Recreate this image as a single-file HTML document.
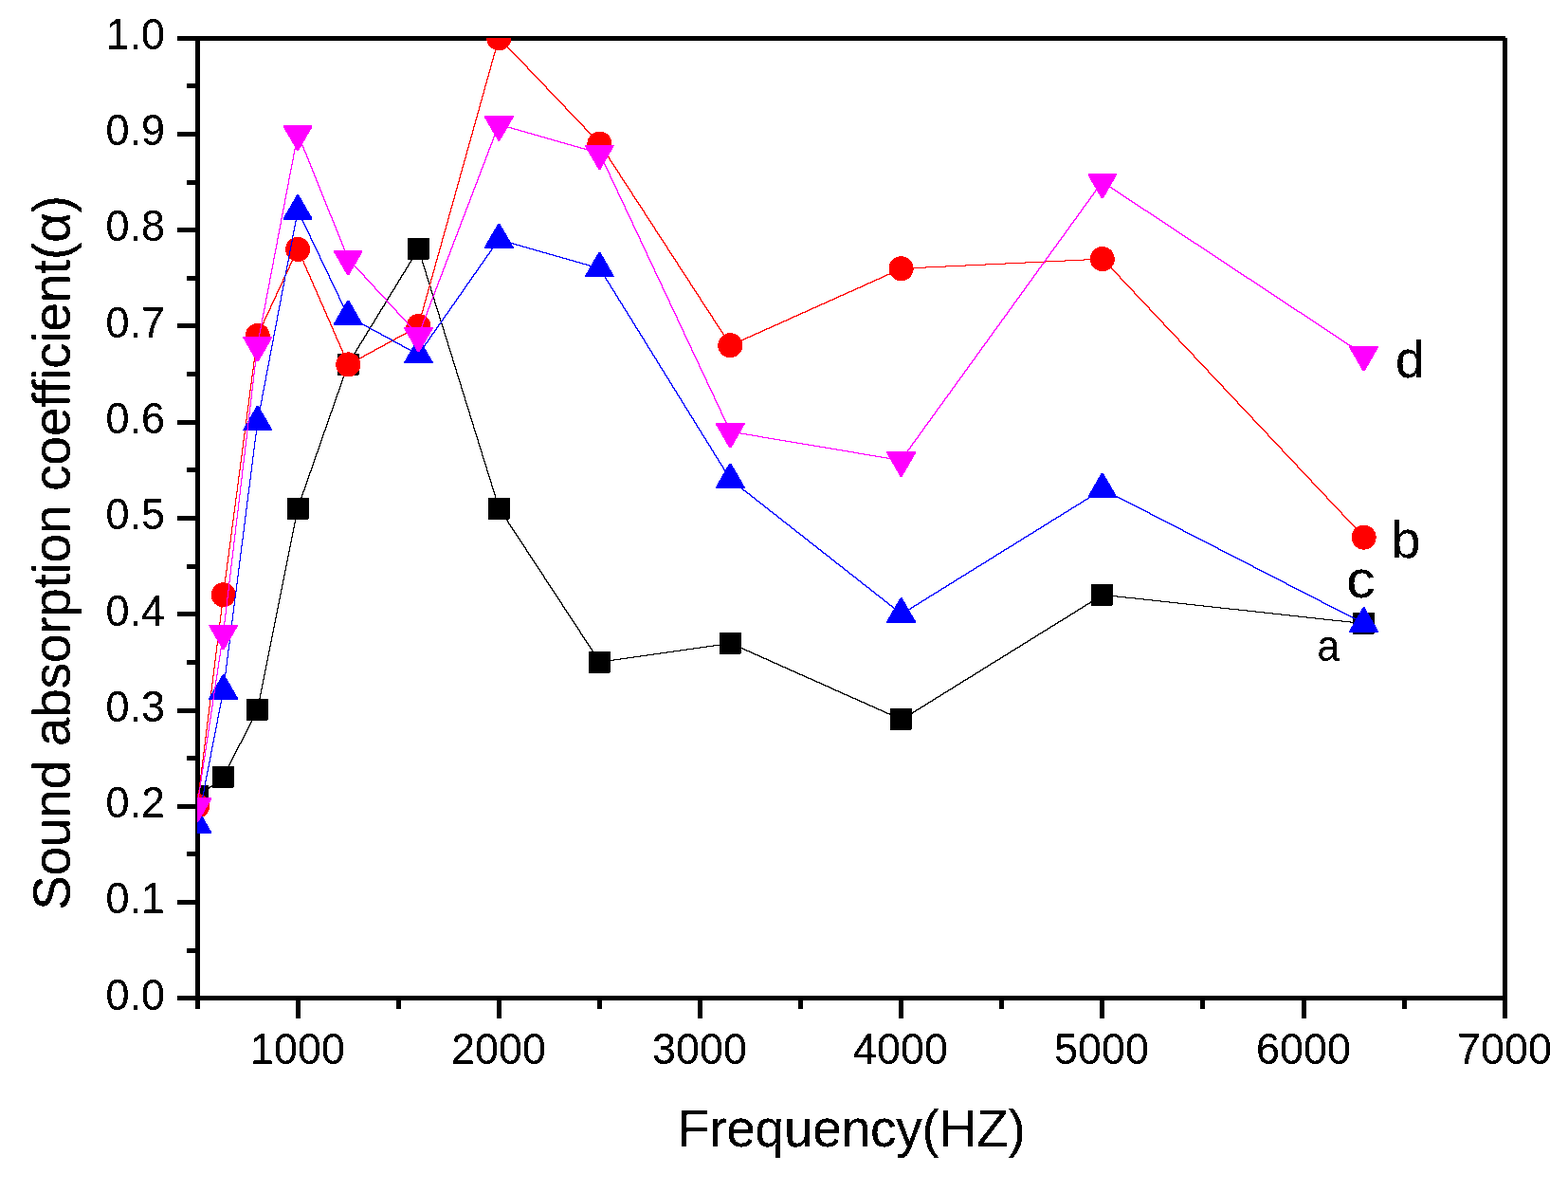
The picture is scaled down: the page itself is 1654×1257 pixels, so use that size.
<!DOCTYPE html>
<html lang="en"><head><meta charset="utf-8"><title>Sound absorption coefficient vs Frequency</title>
<style>
html,body{margin:0;padding:0;background:#fff;}
body{width:1654px;height:1257px;overflow:hidden;}
svg{display:block;}
text{font-family:"Liberation Sans",Arial,Helvetica,sans-serif;fill:#000;}
.tk{font-size:44px;}
.ti{font-size:55px;}
.lb{font-size:55px;}
.la{font-size:47px;}
.ax rect{fill:#000;}
</style></head><body>
<svg width="1654" height="1257" viewBox="0 0 1654 1257">
<rect x="0" y="0" width="1654" height="1257" fill="#ffffff"/>
<defs><clipPath id="plot"><rect x="208" y="40" width="1382" height="1015"/></clipPath>
<filter id="crisp" filterUnits="userSpaceOnUse" x="0" y="0" width="1654" height="1257" color-interpolation-filters="sRGB"><feComponentTransfer><feFuncA type="discrete" tableValues="0 0 1 1 1"/></feComponentTransfer></filter>
</defs>
<g class="ax" shape-rendering="crispEdges">
<rect x="187" y="38" width="1401" height="5"/>
<rect x="187" y="1050" width="1401" height="5"/>
<rect x="206" y="38" width="5" height="1026"/>
<rect x="1585" y="40" width="5" height="1034"/>
<rect x="187" y="1050" width="20" height="5"/>
<rect x="197" y="1000" width="10" height="5"/>
<rect x="187" y="949" width="20" height="5"/>
<rect x="197" y="898" width="10" height="5"/>
<rect x="187" y="848" width="20" height="5"/>
<rect x="197" y="797" width="10" height="5"/>
<rect x="187" y="747" width="20" height="5"/>
<rect x="197" y="696" width="10" height="5"/>
<rect x="187" y="645" width="20" height="5"/>
<rect x="197" y="595" width="10" height="5"/>
<rect x="187" y="544" width="20" height="5"/>
<rect x="197" y="493" width="10" height="5"/>
<rect x="187" y="443" width="20" height="5"/>
<rect x="197" y="392" width="10" height="5"/>
<rect x="187" y="341" width="20" height="5"/>
<rect x="197" y="291" width="10" height="5"/>
<rect x="187" y="240" width="20" height="5"/>
<rect x="197" y="190" width="10" height="5"/>
<rect x="187" y="139" width="20" height="5"/>
<rect x="197" y="88" width="10" height="5"/>
<rect x="187" y="38" width="20" height="5"/>
<rect x="206" y="1054" width="5" height="10"/>
<rect x="312" y="1054" width="5" height="20"/>
<rect x="418" y="1054" width="5" height="10"/>
<rect x="524" y="1054" width="5" height="20"/>
<rect x="630" y="1054" width="5" height="10"/>
<rect x="736" y="1054" width="5" height="20"/>
<rect x="842" y="1054" width="5" height="10"/>
<rect x="948" y="1054" width="5" height="20"/>
<rect x="1054" y="1054" width="5" height="10"/>
<rect x="1160" y="1054" width="5" height="20"/>
<rect x="1266" y="1054" width="5" height="10"/>
<rect x="1373" y="1054" width="5" height="20"/>
<rect x="1479" y="1054" width="5" height="10"/>
</g>
<g filter="url(#crisp)">
<g class="tk" text-anchor="end">
<text transform="translate(174 1065) scale(1.02 1.045)">0.0</text>
<text transform="translate(174 963) scale(1.02 1.045)">0.1</text>
<text transform="translate(174 862) scale(1.02 1.045)">0.2</text>
<text transform="translate(174 761) scale(1.02 1.045)">0.3</text>
<text transform="translate(174 660) scale(1.02 1.045)">0.4</text>
<text transform="translate(174 558) scale(1.02 1.045)">0.5</text>
<text transform="translate(174 457) scale(1.02 1.045)">0.6</text>
<text transform="translate(174 356) scale(1.02 1.045)">0.7</text>
<text transform="translate(174 254) scale(1.02 1.045)">0.8</text>
<text transform="translate(174 153) scale(1.02 1.045)">0.9</text>
<text transform="translate(174 52) scale(1.02 1.045)">1.0</text>
</g>
<g class="tk" text-anchor="middle">
<text transform="translate(314 1121.5) scale(1.02 1.045)">1000</text>
<text transform="translate(526 1121.5) scale(1.02 1.045)">2000</text>
<text transform="translate(738 1121.5) scale(1.02 1.045)">3000</text>
<text transform="translate(950 1121.5) scale(1.02 1.045)">4000</text>
<text transform="translate(1162 1121.5) scale(1.02 1.045)">5000</text>
<text transform="translate(1375 1121.5) scale(1.02 1.045)">6000</text>
<text transform="translate(1587 1121.5) scale(1.02 1.045)">7000</text>
</g>
<text class="ti" text-anchor="middle" textLength="367" lengthAdjust="spacing" x="898.3" y="1209">Frequency(HZ)</text>
<text class="ti" text-anchor="start" textLength="753.8" lengthAdjust="spacing" transform="translate(73.5 959.76) rotate(-90)">Sound absorption coefficient(α)</text>
</g>
<g clip-path="url(#plot)" shape-rendering="crispEdges">
<g fill="#000000" stroke="none">
<path d="M441 262h1v1h-1zM440 263h2v1h-2zM439 264h4v1h-4zM439 265h1v1h-1zM442 265h1v2h-1zM438 266h2v1h-2zM438 267h1v1h-1zM442 267h2v1h-2zM437 268h2v1h-2zM443 268h1v2h-1zM436 269h2v1h-2zM436 270h1v1h-1zM443 270h2v1h-2zM435 271h2v1h-2zM444 271h1v2h-1zM434 272h2v1h-2zM434 273h1v1h-1zM444 273h2v1h-2zM433 274h2v1h-2zM445 274h1v3h-1zM433 275h1v1h-1zM432 276h2v1h-2zM431 277h2v1h-2zM445 277h2v1h-2zM431 278h1v1h-1zM446 278h1v2h-1zM430 279h2v1h-2zM430 280h1v1h-1zM446 280h2v1h-2zM429 281h2v1h-2zM447 281h1v2h-1zM428 282h2v1h-2zM428 283h1v1h-1zM447 283h2v1h-2zM427 284h2v1h-2zM448 284h1v2h-1zM427 285h1v1h-1zM426 286h2v1h-2zM448 286h2v1h-2zM425 287h2v1h-2zM449 287h1v3h-1zM425 288h1v1h-1zM424 289h2v1h-2zM423 290h2v1h-2zM449 290h2v1h-2zM423 291h1v1h-1zM450 291h1v2h-1zM422 292h2v1h-2zM422 293h1v1h-1zM450 293h2v1h-2zM421 294h2v1h-2zM451 294h1v2h-1zM420 295h2v1h-2zM420 296h1v1h-1zM451 296h2v1h-2zM419 297h2v1h-2zM452 297h1v2h-1zM419 298h1v1h-1zM418 299h2v1h-2zM452 299h2v1h-2zM417 300h2v1h-2zM453 300h1v2h-1zM417 301h1v1h-1zM416 302h2v1h-2zM453 302h2v1h-2zM416 303h1v1h-1zM454 303h1v3h-1zM415 304h2v1h-2zM414 305h2v1h-2zM414 306h1v1h-1zM454 306h2v1h-2zM413 307h2v1h-2zM455 307h1v2h-1zM412 308h2v1h-2zM412 309h1v1h-1zM455 309h2v1h-2zM411 310h2v1h-2zM456 310h1v2h-1zM411 311h1v1h-1zM410 312h2v1h-2zM456 312h2v1h-2zM409 313h2v1h-2zM457 313h1v2h-1zM409 314h1v1h-1zM408 315h2v1h-2zM457 315h2v1h-2zM408 316h1v1h-1zM458 316h1v3h-1zM407 317h2v1h-2zM406 318h2v1h-2zM406 319h1v1h-1zM458 319h2v1h-2zM405 320h2v1h-2zM459 320h1v2h-1zM405 321h1v1h-1zM404 322h2v1h-2zM459 322h2v1h-2zM403 323h2v1h-2zM460 323h1v2h-1zM403 324h1v1h-1zM402 325h2v1h-2zM460 325h2v1h-2zM401 326h2v1h-2zM461 326h1v2h-1zM401 327h1v1h-1zM400 328h2v1h-2zM461 328h2v1h-2zM400 329h1v1h-1zM462 329h1v2h-1zM399 330h2v1h-2zM398 331h2v1h-2zM462 331h2v1h-2zM398 332h1v1h-1zM463 332h1v3h-1zM397 333h2v1h-2zM397 334h1v1h-1zM396 335h2v1h-2zM463 335h2v1h-2zM395 336h2v1h-2zM464 336h1v2h-1zM395 337h1v1h-1zM394 338h2v1h-2zM464 338h2v1h-2zM394 339h1v1h-1zM465 339h1v2h-1zM393 340h2v1h-2zM392 341h2v1h-2zM465 341h2v1h-2zM392 342h1v1h-1zM466 342h1v2h-1zM391 343h2v1h-2zM390 344h2v1h-2zM466 344h2v1h-2zM390 345h1v1h-1zM467 345h1v2h-1zM389 346h2v1h-2zM389 347h1v1h-1zM467 347h2v1h-2zM388 348h2v1h-2zM468 348h1v3h-1zM387 349h2v1h-2zM387 350h1v1h-1zM386 351h2v1h-2zM468 351h2v1h-2zM386 352h1v1h-1zM469 352h1v2h-1zM385 353h2v1h-2zM384 354h2v1h-2zM469 354h2v1h-2zM384 355h1v1h-1zM470 355h1v2h-1zM383 356h2v1h-2zM383 357h1v1h-1zM470 357h2v1h-2zM382 358h2v1h-2zM471 358h1v2h-1zM381 359h2v1h-2zM381 360h1v1h-1zM471 360h2v1h-2zM380 361h2v1h-2zM472 361h1v3h-1zM379 362h2v1h-2zM379 363h1v1h-1zM378 364h2v1h-2zM472 364h2v1h-2zM378 365h1v1h-1zM473 365h1v2h-1zM377 366h2v1h-2zM376 367h2v1h-2zM473 367h2v1h-2zM376 368h1v1h-1zM474 368h1v2h-1zM375 369h2v1h-2zM375 370h1v1h-1zM474 370h2v1h-2zM374 371h2v1h-2zM475 371h1v2h-1zM373 372h2v1h-2zM373 373h1v1h-1zM475 373h2v1h-2zM372 374h2v1h-2zM476 374h1v2h-1zM372 375h1v1h-1zM371 376h2v1h-2zM476 376h2v1h-2zM370 377h2v1h-2zM477 377h1v3h-1zM370 378h1v1h-1zM369 379h2v1h-2zM368 380h2v1h-2zM477 380h2v1h-2zM368 381h1v1h-1zM478 381h1v2h-1zM367 382h2v1h-2zM367 383h1v1h-1zM478 383h2v1h-2zM366 384h2v1h-2zM479 384h1v2h-1zM366 385h1v2h-1zM479 386h2v1h-2zM365 387h2v1h-2zM480 387h1v2h-1zM365 388h1v2h-1zM480 389h2v1h-2zM364 390h2v1h-2zM481 390h1v3h-1zM364 391h1v2h-1zM363 393h2v1h-2zM481 393h2v1h-2zM363 394h1v1h-1zM482 394h1v2h-1zM362 395h2v1h-2zM362 396h1v2h-1zM482 396h2v1h-2zM483 397h1v2h-1zM361 398h2v1h-2zM361 399h1v2h-1zM483 399h2v1h-2zM484 400h1v2h-1zM360 401h2v1h-2zM360 402h1v2h-1zM484 402h2v1h-2zM485 403h1v2h-1zM359 404h2v1h-2zM359 405h1v2h-1zM485 405h2v1h-2zM486 406h1v3h-1zM358 407h2v1h-2zM358 408h1v2h-1zM486 409h2v1h-2zM357 410h2v1h-2zM487 410h1v2h-1zM357 411h1v2h-1zM487 412h2v1h-2zM356 413h2v1h-2zM488 413h1v2h-1zM356 414h1v1h-1zM355 415h2v1h-2zM488 415h2v1h-2zM355 416h1v2h-1zM489 416h1v2h-1zM354 418h2v1h-2zM489 418h2v1h-2zM354 419h1v2h-1zM490 419h1v3h-1zM353 421h2v1h-2zM353 422h1v2h-1zM490 422h2v1h-2zM491 423h1v2h-1zM352 424h2v1h-2zM352 425h1v2h-1zM491 425h2v1h-2zM492 426h1v2h-1zM351 427h2v1h-2zM351 428h1v2h-1zM492 428h2v1h-2zM493 429h1v2h-1zM350 430h2v1h-2zM350 431h1v2h-1zM493 431h2v1h-2zM494 432h1v2h-1zM349 433h2v1h-2zM349 434h1v1h-1zM494 434h2v1h-2zM348 435h2v1h-2zM495 435h1v3h-1zM348 436h1v2h-1zM347 438h2v1h-2zM495 438h2v1h-2zM347 439h1v2h-1zM496 439h1v2h-1zM346 441h2v1h-2zM496 441h2v1h-2zM346 442h1v2h-1zM497 442h1v2h-1zM345 444h2v1h-2zM497 444h2v1h-2zM345 445h1v2h-1zM498 445h1v2h-1zM344 447h2v1h-2zM498 447h2v1h-2zM344 448h1v2h-1zM499 448h1v3h-1zM343 450h2v1h-2zM343 451h1v2h-1zM499 451h2v1h-2zM500 452h1v2h-1zM342 453h2v1h-2zM342 454h1v1h-1zM500 454h2v1h-2zM341 455h2v1h-2zM501 455h1v2h-1zM341 456h1v2h-1zM501 457h2v1h-2zM340 458h2v1h-2zM502 458h1v2h-1zM340 459h1v2h-1zM502 460h2v1h-2zM339 461h2v1h-2zM503 461h1v2h-1zM339 462h1v2h-1zM503 463h2v1h-2zM338 464h2v1h-2zM504 464h1v3h-1zM338 465h1v2h-1zM337 467h2v1h-2zM504 467h2v1h-2zM337 468h1v2h-1zM505 468h1v2h-1zM336 470h2v1h-2zM505 470h2v1h-2zM336 471h1v2h-1zM506 471h1v2h-1zM335 473h2v1h-2zM506 473h2v1h-2zM335 474h1v2h-1zM507 474h1v2h-1zM334 476h2v1h-2zM507 476h2v1h-2zM334 477h1v1h-1zM508 477h1v3h-1zM333 478h2v1h-2zM333 479h1v2h-1zM508 480h2v1h-2zM332 481h2v1h-2zM509 481h1v2h-1zM332 482h1v2h-1zM509 483h2v1h-2zM331 484h2v1h-2zM510 484h1v2h-1zM331 485h1v2h-1zM510 486h2v1h-2zM330 487h2v1h-2zM511 487h1v2h-1zM330 488h1v2h-1zM511 489h2v1h-2zM329 490h2v1h-2zM512 490h1v2h-1zM329 491h1v2h-1zM512 492h2v1h-2zM328 493h2v1h-2zM513 493h1v3h-1zM328 494h1v2h-1zM327 496h2v1h-2zM513 496h2v1h-2zM327 497h1v1h-1zM514 497h1v2h-1zM326 498h2v1h-2zM326 499h1v2h-1zM514 499h2v1h-2zM515 500h1v2h-1zM325 501h2v1h-2zM325 502h1v2h-1zM515 502h2v1h-2zM516 503h1v2h-1zM324 504h2v1h-2zM324 505h1v2h-1zM516 505h2v1h-2zM517 506h1v2h-1zM323 507h2v1h-2zM323 508h1v2h-1zM517 508h2v1h-2zM518 509h1v3h-1zM322 510h2v1h-2zM322 511h1v2h-1zM518 512h2v1h-2zM321 513h2v1h-2zM519 513h1v2h-1zM321 514h1v2h-1zM519 515h2v1h-2zM320 516h2v1h-2zM520 516h1v2h-1zM320 517h1v1h-1zM319 518h2v1h-2zM520 518h2v1h-2zM319 519h1v2h-1zM521 519h1v2h-1zM318 521h2v1h-2zM521 521h2v1h-2zM318 522h1v2h-1zM522 522h1v3h-1zM317 524h2v1h-2zM317 525h1v2h-1zM522 525h2v1h-2zM523 526h1v2h-1zM316 527h2v1h-2zM316 528h1v2h-1zM523 528h2v1h-2zM524 529h1v2h-1zM315 530h2v1h-2zM315 531h1v2h-1zM524 531h2v1h-2zM525 532h1v2h-1zM314 533h2v1h-2zM314 534h1v2h-1zM525 534h2v1h-2zM526 535h1v1h-1zM313 536h2v1h-2zM526 536h2v1h-2zM313 537h1v4h-1zM527 537h1v1h-1zM527 538h2v1h-2zM528 539h2v1h-2zM529 540h1v1h-1zM312 541h2v1h-2zM529 541h2v1h-2zM312 542h1v4h-1zM530 542h2v1h-2zM531 543h1v1h-1zM531 544h2v1h-2zM532 545h2v1h-2zM311 546h2v1h-2zM533 546h1v1h-1zM311 547h1v4h-1zM533 547h2v1h-2zM534 548h2v1h-2zM535 549h1v1h-1zM535 550h2v1h-2zM310 551h2v1h-2zM536 551h1v1h-1zM310 552h1v4h-1zM536 552h2v1h-2zM537 553h2v1h-2zM538 554h1v1h-1zM538 555h2v1h-2zM309 556h2v1h-2zM539 556h2v1h-2zM309 557h1v4h-1zM540 557h1v1h-1zM540 558h2v1h-2zM541 559h2v1h-2zM542 560h1v1h-1zM308 561h2v1h-2zM542 561h2v1h-2zM308 562h1v4h-1zM543 562h2v1h-2zM544 563h1v1h-1zM544 564h2v1h-2zM545 565h2v1h-2zM307 566h2v1h-2zM546 566h1v1h-1zM307 567h1v4h-1zM546 567h2v1h-2zM547 568h2v1h-2zM548 569h1v1h-1zM548 570h2v1h-2zM306 571h2v1h-2zM549 571h2v1h-2zM306 572h1v4h-1zM550 572h1v1h-1zM550 573h2v1h-2zM551 574h2v1h-2zM552 575h1v1h-1zM305 576h2v1h-2zM552 576h2v1h-2zM305 577h1v4h-1zM553 577h2v1h-2zM554 578h1v1h-1zM554 579h2v1h-2zM555 580h1v1h-1zM304 581h2v1h-2zM555 581h2v1h-2zM304 582h1v4h-1zM556 582h2v1h-2zM557 583h1v1h-1zM557 584h2v1h-2zM558 585h2v1h-2zM303 586h2v1h-2zM559 586h1v1h-1zM303 587h1v4h-1zM559 587h2v1h-2zM560 588h2v1h-2zM561 589h1v1h-1zM561 590h2v1h-2zM302 591h2v1h-2zM562 591h2v1h-2zM302 592h1v4h-1zM563 592h1v1h-1zM563 593h2v1h-2zM564 594h2v1h-2zM565 595h1v1h-1zM301 596h2v1h-2zM565 596h2v1h-2zM301 597h1v4h-1zM566 597h2v1h-2zM567 598h1v1h-1zM567 599h2v1h-2zM568 600h2v1h-2zM300 601h2v1h-2zM569 601h1v1h-1zM300 602h1v4h-1zM569 602h2v1h-2zM570 603h2v1h-2zM571 604h1v1h-1zM571 605h2v1h-2zM299 606h2v1h-2zM572 606h2v1h-2zM299 607h1v4h-1zM573 607h1v1h-1zM573 608h2v1h-2zM574 609h1v1h-1zM574 610h2v1h-2zM298 611h2v1h-2zM575 611h2v1h-2zM298 612h1v4h-1zM576 612h1v1h-1zM576 613h2v1h-2zM577 614h2v1h-2zM578 615h1v1h-1zM297 616h2v1h-2zM578 616h2v1h-2zM297 617h1v4h-1zM579 617h2v1h-2zM580 618h1v1h-1zM580 619h2v1h-2zM581 620h2v1h-2zM296 621h2v1h-2zM582 621h1v1h-1zM296 622h1v4h-1zM582 622h2v1h-2zM583 623h2v1h-2zM584 624h1v1h-1zM584 625h2v1h-2zM295 626h2v1h-2zM585 626h2v1h-2zM295 627h1v4h-1zM586 627h1v1h-1zM1162 627h8v1h-8zM586 628h2v1h-2zM1160 628h3v1h-3zM1169 628h10v1h-10zM587 629h2v1h-2zM1158 629h3v1h-3zM1178 629h10v1h-10zM588 630h1v1h-1zM1157 630h2v1h-2zM1187 630h11v1h-11zM294 631h2v1h-2zM588 631h2v1h-2zM1155 631h3v1h-3zM1197 631h10v1h-10zM294 632h1v4h-1zM589 632h2v1h-2zM1154 632h2v1h-2zM1206 632h10v1h-10zM590 633h1v1h-1zM1152 633h3v1h-3zM1215 633h10v1h-10zM590 634h2v1h-2zM1150 634h3v1h-3zM1224 634h10v1h-10zM591 635h2v1h-2zM1149 635h2v1h-2zM1233 635h10v1h-10zM293 636h2v1h-2zM592 636h1v1h-1zM1147 636h3v1h-3zM1242 636h10v1h-10zM293 637h1v4h-1zM592 637h2v1h-2zM1145 637h3v1h-3zM1251 637h10v1h-10zM593 638h1v1h-1zM1144 638h2v1h-2zM1260 638h10v1h-10zM593 639h2v1h-2zM1142 639h3v1h-3zM1269 639h10v1h-10zM594 640h2v1h-2zM1141 640h2v1h-2zM1278 640h10v1h-10zM292 641h2v1h-2zM595 641h1v1h-1zM1139 641h3v1h-3zM1287 641h10v1h-10zM292 642h1v4h-1zM595 642h2v1h-2zM1137 642h3v1h-3zM1296 642h11v1h-11zM596 643h2v1h-2zM1136 643h2v1h-2zM1306 643h10v1h-10zM597 644h1v1h-1zM1134 644h3v1h-3zM1315 644h10v1h-10zM597 645h2v1h-2zM1133 645h2v1h-2zM1324 645h10v1h-10zM291 646h2v1h-2zM598 646h2v1h-2zM1131 646h3v1h-3zM1333 646h10v1h-10zM291 647h1v4h-1zM599 647h1v1h-1zM1129 647h3v1h-3zM1342 647h10v1h-10zM599 648h2v1h-2zM1128 648h2v1h-2zM1351 648h10v1h-10zM600 649h2v1h-2zM1126 649h3v1h-3zM1360 649h10v1h-10zM601 650h1v1h-1zM1125 650h2v1h-2zM1369 650h10v1h-10zM290 651h2v1h-2zM601 651h2v1h-2zM1123 651h3v1h-3zM1378 651h10v1h-10zM290 652h1v4h-1zM602 652h2v1h-2zM1121 652h3v1h-3zM1387 652h10v1h-10zM603 653h1v1h-1zM1120 653h2v1h-2zM1396 653h10v1h-10zM603 654h2v1h-2zM1118 654h3v1h-3zM1405 654h11v1h-11zM604 655h2v1h-2zM1116 655h3v1h-3zM1415 655h10v1h-10zM289 656h2v1h-2zM605 656h1v1h-1zM1115 656h2v1h-2zM1424 656h10v1h-10zM289 657h1v4h-1zM605 657h2v1h-2zM1113 657h3v1h-3zM1433 657h6v1h-6zM606 658h2v1h-2zM1112 658h2v1h-2zM607 659h1v1h-1zM1110 659h3v1h-3zM607 660h2v1h-2zM1108 660h3v1h-3zM288 661h2v1h-2zM608 661h2v1h-2zM1107 661h2v1h-2zM288 662h1v4h-1zM609 662h1v1h-1zM1105 662h3v1h-3zM609 663h2v1h-2zM1104 663h2v1h-2zM610 664h2v1h-2zM1102 664h3v1h-3zM611 665h1v1h-1zM1100 665h3v1h-3zM287 666h2v1h-2zM611 666h2v1h-2zM1099 666h2v1h-2zM287 667h1v4h-1zM612 667h1v1h-1zM1097 667h3v1h-3zM612 668h2v1h-2zM1095 668h3v1h-3zM613 669h2v1h-2zM1094 669h2v1h-2zM614 670h1v1h-1zM1092 670h3v1h-3zM286 671h2v1h-2zM614 671h2v1h-2zM1091 671h2v1h-2zM286 672h1v4h-1zM615 672h2v1h-2zM1089 672h3v1h-3zM616 673h1v1h-1zM1087 673h3v1h-3zM616 674h2v1h-2zM1086 674h2v1h-2zM617 675h2v1h-2zM1084 675h3v1h-3zM285 676h2v1h-2zM618 676h1v1h-1zM1083 676h2v1h-2zM285 677h1v4h-1zM618 677h2v1h-2zM1081 677h3v1h-3zM619 678h2v1h-2zM766 678h7v1h-7zM1079 678h3v1h-3zM620 679h1v1h-1zM759 679h8v1h-8zM772 679h3v1h-3zM1078 679h2v1h-2zM620 680h2v1h-2zM752 680h8v1h-8zM774 680h3v1h-3zM1076 680h3v1h-3zM284 681h2v1h-2zM621 681h2v1h-2zM745 681h8v1h-8zM776 681h3v1h-3zM1075 681h2v1h-2zM284 682h1v4h-1zM622 682h1v1h-1zM738 682h8v1h-8zM778 682h4v1h-4zM1073 682h3v1h-3zM622 683h2v1h-2zM731 683h8v1h-8zM781 683h3v1h-3zM1071 683h3v1h-3zM623 684h2v1h-2zM724 684h8v1h-8zM783 684h3v1h-3zM1070 684h2v1h-2zM624 685h1v1h-1zM717 685h8v1h-8zM785 685h3v1h-3zM1068 685h3v1h-3zM283 686h2v1h-2zM624 686h2v1h-2zM710 686h8v1h-8zM787 686h4v1h-4zM1066 686h3v1h-3zM283 687h1v4h-1zM625 687h2v1h-2zM703 687h8v1h-8zM790 687h3v1h-3zM1065 687h2v1h-2zM626 688h1v1h-1zM696 688h8v1h-8zM792 688h3v1h-3zM1063 688h3v1h-3zM626 689h2v1h-2zM689 689h8v1h-8zM794 689h3v1h-3zM1062 689h2v1h-2zM627 690h2v1h-2zM682 690h8v1h-8zM796 690h4v1h-4zM1060 690h3v1h-3zM282 691h2v1h-2zM628 691h1v1h-1zM675 691h8v1h-8zM799 691h3v1h-3zM1058 691h3v1h-3zM282 692h1v4h-1zM628 692h2v1h-2zM668 692h8v1h-8zM801 692h3v1h-3zM1057 692h2v1h-2zM629 693h2v1h-2zM661 693h8v1h-8zM803 693h3v1h-3zM1055 693h3v1h-3zM630 694h1v1h-1zM654 694h8v1h-8zM805 694h4v1h-4zM1054 694h2v1h-2zM630 695h2v1h-2zM647 695h8v1h-8zM808 695h3v1h-3zM1052 695h3v1h-3zM281 696h2v1h-2zM631 696h1v1h-1zM640 696h8v1h-8zM810 696h3v1h-3zM1050 696h3v1h-3zM281 697h1v4h-1zM631 697h10v1h-10zM812 697h3v1h-3zM1049 697h2v1h-2zM632 698h2v1h-2zM814 698h3v1h-3zM1047 698h3v1h-3zM816 699h4v1h-4zM1045 699h3v1h-3zM819 700h3v1h-3zM1044 700h2v1h-2zM280 701h2v1h-2zM821 701h3v1h-3zM1042 701h3v1h-3zM280 702h1v4h-1zM823 702h3v1h-3zM1041 702h2v1h-2zM825 703h4v1h-4zM1039 703h3v1h-3zM828 704h3v1h-3zM1037 704h3v1h-3zM830 705h3v1h-3zM1036 705h2v1h-2zM279 706h2v1h-2zM832 706h3v1h-3zM1034 706h3v1h-3zM279 707h1v4h-1zM834 707h4v1h-4zM1033 707h2v1h-2zM837 708h3v1h-3zM1031 708h3v1h-3zM839 709h3v1h-3zM1029 709h3v1h-3zM841 710h3v1h-3zM1028 710h2v1h-2zM278 711h2v1h-2zM843 711h4v1h-4zM1026 711h3v1h-3zM278 712h1v4h-1zM846 712h3v1h-3zM1025 712h2v1h-2zM848 713h3v1h-3zM1023 713h3v1h-3zM850 714h3v1h-3zM1021 714h3v1h-3zM852 715h4v1h-4zM1020 715h2v1h-2zM277 716h2v1h-2zM855 716h3v1h-3zM1018 716h3v1h-3zM277 717h1v4h-1zM857 717h3v1h-3zM1016 717h3v1h-3zM859 718h3v1h-3zM1015 718h2v1h-2zM861 719h4v1h-4zM1013 719h3v1h-3zM864 720h3v1h-3zM1012 720h2v1h-2zM276 721h2v1h-2zM866 721h3v1h-3zM1010 721h3v1h-3zM276 722h1v4h-1zM868 722h3v1h-3zM1008 722h3v1h-3zM870 723h4v1h-4zM1007 723h2v1h-2zM873 724h3v1h-3zM1005 724h3v1h-3zM875 725h3v1h-3zM1004 725h2v1h-2zM275 726h2v1h-2zM877 726h3v1h-3zM1002 726h3v1h-3zM275 727h1v4h-1zM879 727h3v1h-3zM1000 727h3v1h-3zM881 728h4v1h-4zM999 728h2v1h-2zM884 729h3v1h-3zM997 729h3v1h-3zM886 730h3v1h-3zM995 730h3v1h-3zM274 731h2v1h-2zM888 731h3v1h-3zM994 731h2v1h-2zM274 732h1v4h-1zM890 732h4v1h-4zM992 732h3v1h-3zM893 733h3v1h-3zM991 733h2v1h-2zM895 734h3v1h-3zM989 734h3v1h-3zM897 735h3v1h-3zM987 735h3v1h-3zM273 736h2v1h-2zM899 736h4v1h-4zM986 736h2v1h-2zM273 737h1v4h-1zM902 737h3v1h-3zM984 737h3v1h-3zM904 738h3v1h-3zM983 738h2v1h-2zM906 739h3v1h-3zM981 739h3v1h-3zM908 740h4v1h-4zM979 740h3v1h-3zM272 741h2v1h-2zM911 741h3v1h-3zM978 741h2v1h-2zM272 742h1v4h-1zM913 742h3v1h-3zM976 742h3v1h-3zM915 743h3v1h-3zM975 743h2v1h-2zM917 744h4v1h-4zM973 744h3v1h-3zM920 745h3v1h-3zM971 745h3v1h-3zM271 746h2v1h-2zM922 746h3v1h-3zM970 746h2v1h-2zM271 747h1v2h-1zM924 747h3v1h-3zM968 747h3v1h-3zM926 748h4v1h-4zM966 748h3v1h-3zM270 749h2v1h-2zM929 749h3v1h-3zM965 749h2v1h-2zM270 750h1v1h-1zM931 750h3v1h-3zM963 750h3v1h-3zM269 751h2v1h-2zM933 751h3v1h-3zM962 751h2v1h-2zM269 752h1v1h-1zM935 752h4v1h-4zM960 752h3v1h-3zM268 753h2v1h-2zM938 753h3v1h-3zM958 753h3v1h-3zM268 754h1v1h-1zM940 754h3v1h-3zM957 754h2v1h-2zM267 755h2v1h-2zM942 755h3v1h-3zM955 755h3v1h-3zM267 756h1v1h-1zM944 756h3v1h-3zM954 756h2v1h-2zM266 757h2v1h-2zM946 757h4v1h-4zM952 757h3v1h-3zM266 758h1v1h-1zM949 758h4v1h-4zM265 759h2v1h-2zM265 760h1v1h-1zM264 761h2v1h-2zM264 762h1v1h-1zM263 763h2v1h-2zM263 764h1v1h-1zM262 765h2v1h-2zM262 766h1v1h-1zM261 767h2v1h-2zM261 768h1v1h-1zM260 769h2v1h-2zM260 770h1v1h-1zM259 771h2v1h-2zM259 772h1v1h-1zM258 773h2v1h-2zM258 774h1v1h-1zM257 775h2v1h-2zM257 776h1v1h-1zM256 777h2v1h-2zM256 778h1v1h-1zM255 779h2v1h-2zM255 780h1v1h-1zM254 781h2v1h-2zM254 782h1v1h-1zM253 783h2v1h-2zM252 784h2v1h-2zM252 785h1v1h-1zM251 786h2v1h-2zM251 787h1v1h-1zM250 788h2v1h-2zM250 789h1v1h-1zM249 790h2v1h-2zM249 791h1v1h-1zM248 792h2v1h-2zM248 793h1v1h-1zM247 794h2v1h-2zM247 795h1v1h-1zM246 796h2v1h-2zM246 797h1v1h-1zM245 798h2v1h-2zM245 799h1v1h-1zM244 800h2v1h-2zM244 801h1v1h-1zM243 802h2v1h-2zM243 803h1v1h-1zM242 804h2v1h-2zM242 805h1v1h-1zM241 806h2v1h-2zM241 807h1v1h-1zM240 808h2v1h-2zM240 809h1v1h-1zM239 810h2v1h-2zM239 811h1v1h-1zM238 812h2v1h-2zM238 813h1v1h-1zM237 814h2v1h-2zM237 815h1v1h-1zM236 816h2v1h-2zM236 817h1v1h-1zM235 818h2v1h-2zM235 819h1v1h-1zM234 820h2v1h-2zM232 821h3v1h-3zM231 822h2v1h-2zM230 823h2v1h-2zM228 824h3v1h-3zM227 825h2v1h-2zM226 826h2v1h-2zM224 827h3v1h-3zM223 828h2v1h-2zM221 829h3v1h-3zM220 830h2v1h-2zM219 831h2v1h-2zM217 832h3v1h-3zM216 833h2v1h-2zM215 834h2v1h-2zM213 835h3v1h-3zM212 836h2v1h-2zM211 837h2v1h-2zM209 838h3v1h-3zM208 839h2v1h-2z"/>
<path d="M197 828h23v22h-1v1h-22z"/>
<path d="M224 808h23v22h-1v1h-22z"/>
<path d="M260 737h23v22h-1v1h-22z"/>
<path d="M303 525h23v22h-1v1h-22z"/>
<path d="M356 373h23v22h-1v1h-22z"/>
<path d="M430 251h23v22h-1v1h-22z"/>
<path d="M515 525h23v22h-1v1h-22z"/>
<path d="M621 687h23v22h-1v1h-22z"/>
<path d="M759 667h23v22h-1v1h-22z"/>
<path d="M939 747h23v22h-1v1h-22z"/>
<path d="M1151 616h23v22h-1v1h-22z"/>
<path d="M1427 646h23v22h-1v1h-22z"/>
</g>
<g fill="#ff0000" stroke="none">
<path d="M525 40h3v1h-3zM525 41h1v3h-1zM527 41h2v1h-2zM528 42h2v1h-2zM529 43h2v1h-2zM524 44h2v1h-2zM530 44h2v1h-2zM524 45h1v3h-1zM531 45h2v1h-2zM532 46h2v1h-2zM533 47h2v1h-2zM523 48h2v1h-2zM534 48h2v1h-2zM523 49h1v2h-1zM535 49h1v1h-1zM535 50h2v1h-2zM522 51h2v1h-2zM536 51h2v1h-2zM522 52h1v3h-1zM537 52h2v1h-2zM538 53h2v1h-2zM539 54h2v1h-2zM521 55h2v1h-2zM540 55h2v1h-2zM521 56h1v2h-1zM541 56h2v1h-2zM542 57h2v1h-2zM520 58h2v1h-2zM543 58h2v1h-2zM520 59h1v3h-1zM544 59h2v1h-2zM545 60h2v1h-2zM546 61h2v1h-2zM519 62h2v1h-2zM547 62h2v1h-2zM519 63h1v2h-1zM548 63h2v1h-2zM549 64h2v1h-2zM518 65h2v1h-2zM550 65h2v1h-2zM518 66h1v3h-1zM551 66h2v1h-2zM552 67h2v1h-2zM553 68h2v1h-2zM517 69h2v1h-2zM554 69h2v1h-2zM517 70h1v3h-1zM555 70h2v1h-2zM556 71h1v1h-1zM556 72h2v1h-2zM516 73h2v1h-2zM557 73h2v1h-2zM516 74h1v2h-1zM558 74h2v1h-2zM559 75h2v1h-2zM515 76h2v1h-2zM560 76h2v1h-2zM515 77h1v3h-1zM561 77h2v1h-2zM562 78h2v1h-2zM563 79h2v1h-2zM514 80h2v1h-2zM564 80h2v1h-2zM514 81h1v2h-1zM565 81h2v1h-2zM566 82h2v1h-2zM513 83h2v1h-2zM567 83h2v1h-2zM513 84h1v3h-1zM568 84h2v1h-2zM569 85h2v1h-2zM570 86h2v1h-2zM512 87h2v1h-2zM571 87h2v1h-2zM512 88h1v2h-1zM572 88h2v1h-2zM573 89h2v1h-2zM511 90h2v1h-2zM574 90h2v1h-2zM511 91h1v3h-1zM575 91h2v1h-2zM576 92h1v1h-1zM576 93h2v1h-2zM510 94h2v1h-2zM577 94h2v1h-2zM510 95h1v3h-1zM578 95h2v1h-2zM579 96h2v1h-2zM580 97h2v1h-2zM509 98h2v1h-2zM581 98h2v1h-2zM509 99h1v2h-1zM582 99h2v1h-2zM583 100h2v1h-2zM508 101h2v1h-2zM584 101h2v1h-2zM508 102h1v3h-1zM585 102h2v1h-2zM586 103h2v1h-2zM587 104h2v1h-2zM507 105h2v1h-2zM588 105h2v1h-2zM507 106h1v2h-1zM589 106h2v1h-2zM590 107h2v1h-2zM506 108h2v1h-2zM591 108h2v1h-2zM506 109h1v3h-1zM592 109h2v1h-2zM593 110h2v1h-2zM594 111h2v1h-2zM505 112h2v1h-2zM595 112h2v1h-2zM505 113h1v3h-1zM596 113h1v1h-1zM596 114h2v1h-2zM597 115h2v1h-2zM504 116h2v1h-2zM598 116h2v1h-2zM504 117h1v2h-1zM599 117h2v1h-2zM600 118h2v1h-2zM503 119h2v1h-2zM601 119h2v1h-2zM503 120h1v3h-1zM602 120h2v1h-2zM603 121h2v1h-2zM604 122h2v1h-2zM502 123h2v1h-2zM605 123h2v1h-2zM502 124h1v2h-1zM606 124h2v1h-2zM607 125h2v1h-2zM501 126h2v1h-2zM608 126h2v1h-2zM501 127h1v3h-1zM609 127h2v1h-2zM610 128h2v1h-2zM611 129h2v1h-2zM500 130h2v1h-2zM612 130h2v1h-2zM500 131h1v2h-1zM613 131h2v1h-2zM614 132h2v1h-2zM499 133h2v1h-2zM615 133h2v1h-2zM499 134h1v3h-1zM616 134h1v1h-1zM616 135h2v1h-2zM617 136h2v1h-2zM498 137h2v1h-2zM618 137h2v1h-2zM498 138h1v3h-1zM619 138h2v1h-2zM620 139h2v1h-2zM621 140h2v1h-2zM497 141h2v1h-2zM622 141h2v1h-2zM497 142h1v2h-1zM623 142h2v1h-2zM624 143h2v1h-2zM496 144h2v1h-2zM625 144h2v1h-2zM496 145h1v3h-1zM626 145h2v1h-2zM627 146h2v1h-2zM628 147h2v1h-2zM495 148h2v1h-2zM629 148h2v1h-2zM495 149h1v2h-1zM630 149h2v1h-2zM631 150h2v1h-2zM494 151h2v1h-2zM632 151h1v1h-1zM494 152h1v3h-1zM632 152h2v1h-2zM633 153h2v1h-2zM634 154h1v1h-1zM493 155h2v1h-2zM634 155h2v1h-2zM493 156h1v2h-1zM635 156h2v1h-2zM636 157h1v1h-1zM492 158h2v1h-2zM636 158h2v1h-2zM492 159h1v3h-1zM637 159h2v1h-2zM638 160h1v1h-1zM638 161h2v1h-2zM491 162h2v1h-2zM639 162h2v1h-2zM491 163h1v3h-1zM640 163h1v1h-1zM640 164h2v1h-2zM641 165h2v1h-2zM490 166h2v1h-2zM642 166h1v1h-1zM490 167h1v2h-1zM642 167h2v1h-2zM643 168h1v1h-1zM489 169h2v1h-2zM643 169h2v1h-2zM489 170h1v3h-1zM644 170h2v1h-2zM645 171h1v1h-1zM645 172h2v1h-2zM488 173h2v1h-2zM646 173h2v1h-2zM488 174h1v2h-1zM647 174h1v1h-1zM647 175h2v1h-2zM487 176h2v1h-2zM648 176h2v1h-2zM487 177h1v3h-1zM649 177h1v1h-1zM649 178h2v1h-2zM650 179h2v1h-2zM486 180h2v1h-2zM651 180h1v1h-1zM486 181h1v2h-1zM651 181h2v1h-2zM652 182h2v1h-2zM485 183h2v1h-2zM653 183h1v1h-1zM485 184h1v3h-1zM653 184h2v1h-2zM654 185h1v1h-1zM654 186h2v1h-2zM484 187h2v1h-2zM655 187h2v1h-2zM484 188h1v3h-1zM656 188h1v1h-1zM656 189h2v1h-2zM657 190h2v1h-2zM483 191h2v1h-2zM658 191h1v1h-1zM483 192h1v2h-1zM658 192h2v1h-2zM659 193h2v1h-2zM482 194h2v1h-2zM660 194h1v1h-1zM482 195h1v3h-1zM660 195h2v1h-2zM661 196h2v1h-2zM662 197h1v1h-1zM481 198h2v1h-2zM662 198h2v1h-2zM481 199h1v2h-1zM663 199h2v1h-2zM664 200h1v1h-1zM480 201h2v1h-2zM664 201h2v1h-2zM480 202h1v3h-1zM665 202h2v1h-2zM666 203h1v1h-1zM666 204h2v1h-2zM479 205h2v1h-2zM667 205h1v1h-1zM479 206h1v3h-1zM667 206h2v1h-2zM668 207h2v1h-2zM669 208h1v1h-1zM478 209h2v1h-2zM669 209h2v1h-2zM478 210h1v2h-1zM670 210h2v1h-2zM671 211h1v1h-1zM477 212h2v1h-2zM671 212h2v1h-2zM477 213h1v3h-1zM672 213h2v1h-2zM673 214h1v1h-1zM673 215h2v1h-2zM476 216h2v1h-2zM674 216h2v1h-2zM476 217h1v2h-1zM675 217h1v1h-1zM675 218h2v1h-2zM475 219h2v1h-2zM676 219h2v1h-2zM475 220h1v3h-1zM677 220h1v1h-1zM677 221h2v1h-2zM678 222h2v1h-2zM474 223h2v1h-2zM679 223h1v1h-1zM474 224h1v2h-1zM679 224h2v1h-2zM680 225h1v1h-1zM473 226h2v1h-2zM680 226h2v1h-2zM473 227h1v3h-1zM681 227h2v1h-2zM682 228h1v1h-1zM682 229h2v1h-2zM472 230h2v1h-2zM683 230h2v1h-2zM472 231h1v3h-1zM684 231h1v1h-1zM684 232h2v1h-2zM685 233h2v1h-2zM471 234h2v1h-2zM686 234h1v1h-1zM471 235h1v2h-1zM686 235h2v1h-2zM687 236h2v1h-2zM470 237h2v1h-2zM688 237h1v1h-1zM470 238h1v3h-1zM688 238h2v1h-2zM689 239h2v1h-2zM690 240h1v1h-1zM469 241h2v1h-2zM690 241h2v1h-2zM469 242h1v2h-1zM691 242h1v1h-1zM691 243h2v1h-2zM468 244h2v1h-2zM692 244h2v1h-2zM468 245h1v3h-1zM693 245h1v1h-1zM693 246h2v1h-2zM694 247h2v1h-2zM467 248h2v1h-2zM695 248h1v1h-1zM467 249h1v2h-1zM695 249h2v1h-2zM696 250h2v1h-2zM466 251h2v1h-2zM697 251h1v1h-1zM466 252h1v3h-1zM697 252h2v1h-2zM698 253h2v1h-2zM699 254h1v1h-1zM465 255h2v1h-2zM699 255h2v1h-2zM465 256h1v3h-1zM700 256h2v1h-2zM701 257h1v1h-1zM701 258h2v1h-2zM464 259h2v1h-2zM702 259h2v1h-2zM464 260h1v2h-1zM703 260h1v1h-1zM703 261h2v1h-2zM313 262h2v1h-2zM463 262h2v1h-2zM704 262h1v1h-1zM313 263h2v1h-2zM463 263h1v3h-1zM704 263h2v1h-2zM312 264h4v1h-4zM705 264h2v1h-2zM312 265h1v2h-1zM315 265h1v1h-1zM706 265h1v1h-1zM315 266h2v1h-2zM462 266h2v1h-2zM706 266h2v1h-2zM311 267h2v1h-2zM316 267h1v2h-1zM462 267h1v2h-1zM707 267h2v1h-2zM311 268h1v1h-1zM708 268h1v1h-1zM310 269h2v1h-2zM316 269h2v1h-2zM461 269h2v1h-2zM708 269h2v1h-2zM310 270h1v1h-1zM317 270h1v1h-1zM461 270h1v3h-1zM709 270h2v1h-2zM309 271h2v1h-2zM317 271h2v1h-2zM710 271h1v1h-1zM309 272h1v1h-1zM318 272h1v1h-1zM710 272h2v1h-2zM308 273h2v1h-2zM318 273h2v1h-2zM460 273h2v1h-2zM711 273h2v1h-2zM1143 273h22v1h-22zM308 274h1v1h-1zM319 274h1v1h-1zM460 274h1v2h-1zM712 274h1v1h-1zM1123 274h21v1h-21zM1164 274h2v1h-2zM307 275h2v1h-2zM319 275h2v1h-2zM712 275h2v1h-2zM1102 275h22v1h-22zM1165 275h1v1h-1zM307 276h1v1h-1zM320 276h1v2h-1zM459 276h2v1h-2zM713 276h2v1h-2zM1081 276h22v1h-22zM1165 276h2v1h-2zM306 277h2v1h-2zM459 277h1v3h-1zM714 277h1v1h-1zM1060 277h22v1h-22zM1166 277h2v1h-2zM306 278h1v1h-1zM320 278h2v1h-2zM714 278h2v1h-2zM1039 278h22v1h-22zM1167 278h2v1h-2zM305 279h2v1h-2zM321 279h1v1h-1zM715 279h1v1h-1zM1018 279h22v1h-22zM1168 279h2v1h-2zM305 280h1v2h-1zM321 280h2v1h-2zM458 280h2v1h-2zM715 280h2v1h-2zM997 280h22v1h-22zM1169 280h2v1h-2zM322 281h1v1h-1zM458 281h1v3h-1zM716 281h2v1h-2zM976 281h22v1h-22zM1170 281h2v1h-2zM304 282h2v1h-2zM322 282h2v1h-2zM717 282h1v1h-1zM955 282h22v1h-22zM1171 282h2v1h-2zM304 283h1v1h-1zM323 283h1v2h-1zM717 283h2v1h-2zM949 283h7v1h-7zM1172 283h2v1h-2zM303 284h2v1h-2zM457 284h2v1h-2zM718 284h2v1h-2zM947 284h3v1h-3zM1173 284h2v1h-2zM303 285h1v1h-1zM323 285h2v1h-2zM457 285h1v2h-1zM719 285h1v1h-1zM944 285h4v1h-4zM1174 285h2v1h-2zM302 286h2v1h-2zM324 286h1v1h-1zM719 286h2v1h-2zM942 286h3v1h-3zM1175 286h2v1h-2zM302 287h1v1h-1zM324 287h2v1h-2zM456 287h2v1h-2zM720 287h2v1h-2zM940 287h3v1h-3zM1176 287h2v1h-2zM301 288h2v1h-2zM325 288h1v1h-1zM456 288h1v3h-1zM721 288h1v1h-1zM938 288h3v1h-3zM1177 288h2v1h-2zM301 289h1v1h-1zM325 289h2v1h-2zM721 289h2v1h-2zM935 289h4v1h-4zM1178 289h2v1h-2zM300 290h2v1h-2zM326 290h1v1h-1zM722 290h2v1h-2zM933 290h3v1h-3zM1179 290h2v1h-2zM300 291h1v1h-1zM326 291h2v1h-2zM455 291h2v1h-2zM723 291h1v1h-1zM931 291h3v1h-3zM1180 291h2v1h-2zM299 292h2v1h-2zM327 292h1v2h-1zM455 292h1v2h-1zM723 292h2v1h-2zM929 292h3v1h-3zM1181 292h1v1h-1zM299 293h1v1h-1zM724 293h2v1h-2zM927 293h3v1h-3zM1181 293h2v1h-2zM298 294h2v1h-2zM327 294h2v1h-2zM454 294h2v1h-2zM725 294h1v1h-1zM924 294h4v1h-4zM1182 294h2v1h-2zM298 295h1v2h-1zM328 295h1v1h-1zM454 295h1v3h-1zM725 295h2v1h-2zM922 295h3v1h-3zM1183 295h2v1h-2zM328 296h2v1h-2zM726 296h2v1h-2zM920 296h3v1h-3zM1184 296h2v1h-2zM297 297h2v1h-2zM329 297h1v1h-1zM727 297h1v1h-1zM918 297h3v1h-3zM1185 297h2v1h-2zM297 298h1v1h-1zM329 298h2v1h-2zM453 298h2v1h-2zM727 298h2v1h-2zM915 298h4v1h-4zM1186 298h2v1h-2zM296 299h2v1h-2zM330 299h1v2h-1zM453 299h1v3h-1zM728 299h1v1h-1zM913 299h3v1h-3zM1187 299h2v1h-2zM296 300h1v1h-1zM728 300h2v1h-2zM911 300h3v1h-3zM1188 300h2v1h-2zM295 301h2v1h-2zM330 301h2v1h-2zM729 301h2v1h-2zM909 301h3v1h-3zM1189 301h2v1h-2zM295 302h1v1h-1zM331 302h1v1h-1zM452 302h2v1h-2zM730 302h1v1h-1zM907 302h3v1h-3zM1190 302h2v1h-2zM294 303h2v1h-2zM331 303h2v1h-2zM452 303h1v2h-1zM730 303h2v1h-2zM904 303h4v1h-4zM1191 303h2v1h-2zM294 304h1v1h-1zM332 304h1v1h-1zM731 304h2v1h-2zM902 304h3v1h-3zM1192 304h2v1h-2zM293 305h2v1h-2zM332 305h2v1h-2zM451 305h2v1h-2zM732 305h1v1h-1zM900 305h3v1h-3zM1193 305h2v1h-2zM293 306h1v1h-1zM333 306h1v1h-1zM451 306h1v3h-1zM732 306h2v1h-2zM898 306h3v1h-3zM1194 306h2v1h-2zM292 307h2v1h-2zM333 307h2v1h-2zM733 307h2v1h-2zM895 307h4v1h-4zM1195 307h2v1h-2zM292 308h1v1h-1zM334 308h1v2h-1zM734 308h1v1h-1zM893 308h3v1h-3zM1196 308h1v1h-1zM291 309h2v1h-2zM450 309h2v1h-2zM734 309h2v1h-2zM891 309h3v1h-3zM1196 309h2v1h-2zM291 310h1v2h-1zM334 310h2v1h-2zM450 310h1v2h-1zM735 310h2v1h-2zM889 310h3v1h-3zM1197 310h2v1h-2zM335 311h1v1h-1zM736 311h1v1h-1zM886 311h4v1h-4zM1198 311h2v1h-2zM290 312h2v1h-2zM335 312h2v1h-2zM449 312h2v1h-2zM736 312h2v1h-2zM884 312h3v1h-3zM1199 312h2v1h-2zM290 313h1v1h-1zM336 313h1v1h-1zM449 313h1v3h-1zM737 313h2v1h-2zM882 313h3v1h-3zM1200 313h2v1h-2zM289 314h2v1h-2zM336 314h2v1h-2zM738 314h1v1h-1zM880 314h3v1h-3zM1201 314h2v1h-2zM289 315h1v1h-1zM337 315h1v2h-1zM738 315h2v1h-2zM878 315h3v1h-3zM1202 315h2v1h-2zM288 316h2v1h-2zM448 316h2v1h-2zM739 316h1v1h-1zM875 316h4v1h-4zM1203 316h2v1h-2zM288 317h1v1h-1zM337 317h2v1h-2zM448 317h1v2h-1zM739 317h2v1h-2zM873 317h3v1h-3zM1204 317h2v1h-2zM287 318h2v1h-2zM338 318h1v1h-1zM740 318h2v1h-2zM871 318h3v1h-3zM1205 318h2v1h-2zM287 319h1v1h-1zM338 319h2v1h-2zM447 319h2v1h-2zM741 319h1v1h-1zM869 319h3v1h-3zM1206 319h2v1h-2zM286 320h2v1h-2zM339 320h1v1h-1zM447 320h1v3h-1zM741 320h2v1h-2zM866 320h4v1h-4zM1207 320h2v1h-2zM286 321h1v1h-1zM339 321h2v1h-2zM742 321h2v1h-2zM864 321h3v1h-3zM1208 321h2v1h-2zM285 322h2v1h-2zM340 322h1v1h-1zM743 322h1v1h-1zM862 322h3v1h-3zM1209 322h2v1h-2zM285 323h1v2h-1zM340 323h2v1h-2zM446 323h2v1h-2zM743 323h2v1h-2zM860 323h3v1h-3zM1210 323h2v1h-2zM341 324h1v2h-1zM446 324h1v3h-1zM744 324h2v1h-2zM857 324h4v1h-4zM1211 324h2v1h-2zM284 325h2v1h-2zM745 325h1v1h-1zM855 325h3v1h-3zM1212 325h1v1h-1zM284 326h1v1h-1zM341 326h2v1h-2zM745 326h2v1h-2zM853 326h3v1h-3zM1212 326h2v1h-2zM283 327h2v1h-2zM342 327h1v1h-1zM445 327h2v1h-2zM746 327h2v1h-2zM851 327h3v1h-3zM1213 327h2v1h-2zM283 328h1v1h-1zM342 328h2v1h-2zM445 328h1v2h-1zM747 328h1v1h-1zM849 328h3v1h-3zM1214 328h2v1h-2zM282 329h2v1h-2zM343 329h1v1h-1zM747 329h2v1h-2zM846 329h4v1h-4zM1215 329h2v1h-2zM282 330h1v1h-1zM343 330h2v1h-2zM444 330h2v1h-2zM748 330h2v1h-2zM844 330h3v1h-3zM1216 330h2v1h-2zM281 331h2v1h-2zM344 331h1v2h-1zM444 331h1v3h-1zM749 331h1v1h-1zM842 331h3v1h-3zM1217 331h2v1h-2zM281 332h1v1h-1zM749 332h2v1h-2zM840 332h3v1h-3zM1218 332h2v1h-2zM280 333h2v1h-2zM344 333h2v1h-2zM750 333h2v1h-2zM837 333h4v1h-4zM1219 333h2v1h-2zM280 334h1v1h-1zM345 334h1v1h-1zM443 334h2v1h-2zM751 334h1v1h-1zM835 334h3v1h-3zM1220 334h2v1h-2zM279 335h2v1h-2zM345 335h2v1h-2zM443 335h1v2h-1zM751 335h2v1h-2zM833 335h3v1h-3zM1221 335h2v1h-2zM279 336h1v1h-1zM346 336h1v1h-1zM752 336h1v1h-1zM831 336h3v1h-3zM1222 336h2v1h-2zM278 337h2v1h-2zM346 337h2v1h-2zM442 337h2v1h-2zM752 337h2v1h-2zM829 337h3v1h-3zM1223 337h2v1h-2zM278 338h1v2h-1zM347 338h1v1h-1zM442 338h1v3h-1zM753 338h2v1h-2zM826 338h4v1h-4zM1224 338h2v1h-2zM347 339h2v1h-2zM754 339h1v1h-1zM824 339h3v1h-3zM1225 339h2v1h-2zM277 340h2v1h-2zM348 340h1v2h-1zM754 340h2v1h-2zM822 340h3v1h-3zM1226 340h2v1h-2zM277 341h1v1h-1zM441 341h2v1h-2zM755 341h2v1h-2zM820 341h3v1h-3zM1227 341h1v1h-1zM276 342h2v1h-2zM348 342h2v1h-2zM441 342h1v2h-1zM756 342h1v1h-1zM817 342h4v1h-4zM1227 342h2v1h-2zM276 343h1v1h-1zM349 343h1v1h-1zM756 343h2v1h-2zM815 343h3v1h-3zM1228 343h2v1h-2zM275 344h2v1h-2zM349 344h2v1h-2zM439 344h3v1h-3zM757 344h2v1h-2zM813 344h3v1h-3zM1229 344h2v1h-2zM275 345h1v1h-1zM350 345h1v1h-1zM438 345h2v1h-2zM758 345h1v1h-1zM811 345h3v1h-3zM1230 345h2v1h-2zM274 346h2v1h-2zM350 346h2v1h-2zM436 346h3v1h-3zM758 346h2v1h-2zM808 346h4v1h-4zM1231 346h2v1h-2zM274 347h1v1h-1zM351 347h1v2h-1zM434 347h3v1h-3zM759 347h2v1h-2zM806 347h3v1h-3zM1232 347h2v1h-2zM273 348h2v1h-2zM432 348h3v1h-3zM760 348h1v1h-1zM804 348h3v1h-3zM1233 348h2v1h-2zM273 349h1v1h-1zM351 349h2v1h-2zM430 349h3v1h-3zM760 349h2v1h-2zM802 349h3v1h-3zM1234 349h2v1h-2zM272 350h2v1h-2zM352 350h1v1h-1zM428 350h3v1h-3zM761 350h2v1h-2zM800 350h3v1h-3zM1235 350h2v1h-2zM272 351h1v1h-1zM352 351h2v1h-2zM427 351h2v1h-2zM762 351h1v1h-1zM797 351h4v1h-4zM1236 351h2v1h-2zM271 352h2v1h-2zM353 352h1v1h-1zM425 352h3v1h-3zM762 352h2v1h-2zM795 352h3v1h-3zM1237 352h2v1h-2zM271 353h1v5h-1zM353 353h2v1h-2zM423 353h3v1h-3zM763 353h2v1h-2zM793 353h3v1h-3zM1238 353h2v1h-2zM354 354h1v2h-1zM421 354h3v1h-3zM764 354h1v1h-1zM791 354h3v1h-3zM1239 354h2v1h-2zM419 355h3v1h-3zM764 355h2v1h-2zM788 355h4v1h-4zM1240 355h2v1h-2zM354 356h2v1h-2zM417 356h3v1h-3zM765 356h1v1h-1zM786 356h3v1h-3zM1241 356h2v1h-2zM355 357h1v1h-1zM416 357h2v1h-2zM765 357h2v1h-2zM784 357h3v1h-3zM1242 357h2v1h-2zM270 358h2v1h-2zM355 358h2v1h-2zM414 358h3v1h-3zM766 358h2v1h-2zM782 358h3v1h-3zM1243 358h1v1h-1zM270 359h1v7h-1zM356 359h1v1h-1zM412 359h3v1h-3zM767 359h1v1h-1zM780 359h3v1h-3zM1243 359h2v1h-2zM356 360h2v1h-2zM410 360h3v1h-3zM767 360h2v1h-2zM777 360h4v1h-4zM1244 360h2v1h-2zM357 361h1v1h-1zM408 361h3v1h-3zM768 361h2v1h-2zM775 361h3v1h-3zM1245 361h2v1h-2zM357 362h2v1h-2zM406 362h3v1h-3zM769 362h1v1h-1zM773 362h3v1h-3zM1246 362h2v1h-2zM358 363h1v2h-1zM405 363h2v1h-2zM769 363h5v1h-5zM1247 363h2v1h-2zM403 364h3v1h-3zM770 364h2v1h-2zM1248 364h2v1h-2zM358 365h2v1h-2zM401 365h3v1h-3zM1249 365h2v1h-2zM269 366h2v1h-2zM359 366h1v1h-1zM399 366h3v1h-3zM1250 366h2v1h-2zM269 367h1v7h-1zM359 367h2v1h-2zM397 367h3v1h-3zM1251 367h2v1h-2zM360 368h1v1h-1zM395 368h3v1h-3zM1252 368h2v1h-2zM360 369h2v1h-2zM394 369h2v1h-2zM1253 369h2v1h-2zM361 370h1v2h-1zM392 370h3v1h-3zM1254 370h2v1h-2zM390 371h3v1h-3zM1255 371h2v1h-2zM361 372h2v1h-2zM388 372h3v1h-3zM1256 372h2v1h-2zM362 373h1v1h-1zM386 373h3v1h-3zM1257 373h2v1h-2zM268 374h2v1h-2zM362 374h2v1h-2zM384 374h3v1h-3zM1258 374h2v1h-2zM268 375h1v6h-1zM363 375h1v1h-1zM383 375h2v1h-2zM1259 375h1v1h-1zM363 376h2v1h-2zM381 376h3v1h-3zM1259 376h2v1h-2zM364 377h1v1h-1zM379 377h3v1h-3zM1260 377h2v1h-2zM364 378h2v1h-2zM377 378h3v1h-3zM1261 378h2v1h-2zM365 379h1v2h-1zM375 379h3v1h-3zM1262 379h2v1h-2zM373 380h3v1h-3zM1263 380h2v1h-2zM267 381h2v1h-2zM365 381h2v1h-2zM372 381h2v1h-2zM1264 381h2v1h-2zM267 382h1v7h-1zM366 382h1v1h-1zM370 382h3v1h-3zM1265 382h2v1h-2zM366 383h5v1h-5zM1266 383h2v1h-2zM367 384h2v1h-2zM1267 384h2v1h-2zM1268 385h2v1h-2zM1269 386h2v1h-2zM1270 387h2v1h-2zM1271 388h2v1h-2zM266 389h2v1h-2zM1272 389h2v1h-2zM266 390h1v6h-1zM1273 390h2v1h-2zM1274 391h1v1h-1zM1274 392h2v1h-2zM1275 393h2v1h-2zM1276 394h2v1h-2zM1277 395h2v1h-2zM265 396h2v1h-2zM1278 396h2v1h-2zM265 397h1v7h-1zM1279 397h2v1h-2zM1280 398h2v1h-2zM1281 399h2v1h-2zM1282 400h2v1h-2zM1283 401h2v1h-2zM1284 402h2v1h-2zM1285 403h2v1h-2zM264 404h2v1h-2zM1286 404h2v1h-2zM264 405h1v6h-1zM1287 405h2v1h-2zM1288 406h2v1h-2zM1289 407h2v1h-2zM1290 408h1v1h-1zM1290 409h2v1h-2zM1291 410h2v1h-2zM263 411h2v1h-2zM1292 411h2v1h-2zM263 412h1v7h-1zM1293 412h2v1h-2zM1294 413h2v1h-2zM1295 414h2v1h-2zM1296 415h2v1h-2zM1297 416h2v1h-2zM1298 417h2v1h-2zM1299 418h2v1h-2zM262 419h2v1h-2zM1300 419h2v1h-2zM262 420h1v7h-1zM1301 420h2v1h-2zM1302 421h2v1h-2zM1303 422h2v1h-2zM1304 423h2v1h-2zM1305 424h1v1h-1zM1305 425h2v1h-2zM1306 426h2v1h-2zM261 427h2v1h-2zM1307 427h2v1h-2zM261 428h1v6h-1zM1308 428h2v1h-2zM1309 429h2v1h-2zM1310 430h2v1h-2zM1311 431h2v1h-2zM1312 432h2v1h-2zM1313 433h2v1h-2zM260 434h2v1h-2zM1314 434h2v1h-2zM260 435h1v7h-1zM1315 435h2v1h-2zM1316 436h2v1h-2zM1317 437h2v1h-2zM1318 438h2v1h-2zM1319 439h2v1h-2zM1320 440h2v1h-2zM1321 441h1v1h-1zM259 442h2v1h-2zM1321 442h2v1h-2zM259 443h1v6h-1zM1322 443h2v1h-2zM1323 444h2v1h-2zM1324 445h2v1h-2zM1325 446h2v1h-2zM1326 447h2v1h-2zM1327 448h2v1h-2zM258 449h2v1h-2zM1328 449h2v1h-2zM258 450h1v7h-1zM1329 450h2v1h-2zM1330 451h2v1h-2zM1331 452h2v1h-2zM1332 453h2v1h-2zM1333 454h2v1h-2zM1334 455h2v1h-2zM1335 456h2v1h-2zM257 457h2v1h-2zM1336 457h2v1h-2zM257 458h1v6h-1zM1337 458h1v1h-1zM1337 459h2v1h-2zM1338 460h2v1h-2zM1339 461h2v1h-2zM1340 462h2v1h-2zM1341 463h2v1h-2zM256 464h2v1h-2zM1342 464h2v1h-2zM256 465h1v7h-1zM1343 465h2v1h-2zM1344 466h2v1h-2zM1345 467h2v1h-2zM1346 468h2v1h-2zM1347 469h2v1h-2zM1348 470h2v1h-2zM1349 471h2v1h-2zM255 472h2v1h-2zM1350 472h2v1h-2zM255 473h1v7h-1zM1351 473h2v1h-2zM1352 474h1v1h-1zM1352 475h2v1h-2zM1353 476h2v1h-2zM1354 477h2v1h-2zM1355 478h2v1h-2zM1356 479h2v1h-2zM254 480h2v1h-2zM1357 480h2v1h-2zM254 481h1v6h-1zM1358 481h2v1h-2zM1359 482h2v1h-2zM1360 483h2v1h-2zM1361 484h2v1h-2zM1362 485h2v1h-2zM1363 486h2v1h-2zM253 487h2v1h-2zM1364 487h2v1h-2zM253 488h1v7h-1zM1365 488h2v1h-2zM1366 489h2v1h-2zM1367 490h2v1h-2zM1368 491h1v1h-1zM1368 492h2v1h-2zM1369 493h2v1h-2zM1370 494h2v1h-2zM252 495h2v1h-2zM1371 495h2v1h-2zM252 496h1v6h-1zM1372 496h2v1h-2zM1373 497h2v1h-2zM1374 498h2v1h-2zM1375 499h2v1h-2zM1376 500h2v1h-2zM1377 501h2v1h-2zM251 502h2v1h-2zM1378 502h2v1h-2zM251 503h1v7h-1zM1379 503h2v1h-2zM1380 504h2v1h-2zM1381 505h2v1h-2zM1382 506h2v1h-2zM1383 507h1v1h-1zM1383 508h2v1h-2zM1384 509h2v1h-2zM250 510h2v1h-2zM1385 510h2v1h-2zM250 511h1v7h-1zM1386 511h2v1h-2zM1387 512h2v1h-2zM1388 513h2v1h-2zM1389 514h2v1h-2zM1390 515h2v1h-2zM1391 516h2v1h-2zM1392 517h2v1h-2zM249 518h2v1h-2zM1393 518h2v1h-2zM249 519h1v6h-1zM1394 519h2v1h-2zM1395 520h2v1h-2zM1396 521h2v1h-2zM1397 522h2v1h-2zM1398 523h2v1h-2zM1399 524h1v1h-1zM248 525h2v1h-2zM1399 525h2v1h-2zM248 526h1v7h-1zM1400 526h2v1h-2zM1401 527h2v1h-2zM1402 528h2v1h-2zM1403 529h2v1h-2zM1404 530h2v1h-2zM1405 531h2v1h-2zM1406 532h2v1h-2zM247 533h2v1h-2zM1407 533h2v1h-2zM247 534h1v6h-1zM1408 534h2v1h-2zM1409 535h2v1h-2zM1410 536h2v1h-2zM1411 537h2v1h-2zM1412 538h2v1h-2zM1413 539h2v1h-2zM246 540h2v1h-2zM1414 540h2v1h-2zM246 541h1v7h-1zM1415 541h1v1h-1zM1415 542h2v1h-2zM1416 543h2v1h-2zM1417 544h2v1h-2zM1418 545h2v1h-2zM1419 546h2v1h-2zM1420 547h2v1h-2zM245 548h2v1h-2zM1421 548h2v1h-2zM245 549h1v6h-1zM1422 549h2v1h-2zM1423 550h2v1h-2zM1424 551h2v1h-2zM1425 552h2v1h-2zM1426 553h2v1h-2zM1427 554h2v1h-2zM244 555h2v1h-2zM1428 555h2v1h-2zM244 556h1v7h-1zM1429 556h2v1h-2zM1430 557h1v1h-1zM1430 558h2v1h-2zM1431 559h2v1h-2zM1432 560h2v1h-2zM1433 561h2v1h-2zM1434 562h2v1h-2zM243 563h2v1h-2zM1435 563h2v1h-2zM243 564h1v7h-1zM1436 564h2v1h-2zM1437 565h2v1h-2zM1438 566h1v1h-1zM242 571h2v1h-2zM242 572h1v6h-1zM241 578h2v1h-2zM241 579h1v7h-1zM240 586h2v1h-2zM240 587h1v6h-1zM239 593h2v1h-2zM239 594h1v7h-1zM238 601h2v1h-2zM238 602h1v6h-1zM237 608h2v1h-2zM237 609h1v7h-1zM236 616h2v1h-2zM236 617h1v7h-1zM235 624h2v1h-2zM235 625h1v6h-1zM234 631h2v1h-2zM234 632h1v8h-1zM233 640h2v1h-2zM233 641h1v7h-1zM232 648h2v1h-2zM232 649h1v7h-1zM231 656h2v1h-2zM231 657h1v7h-1zM230 664h2v1h-2zM230 665h1v7h-1zM229 672h2v1h-2zM229 673h1v7h-1zM228 680h2v1h-2zM228 681h1v7h-1zM227 688h2v1h-2zM227 689h1v7h-1zM226 696h2v1h-2zM226 697h1v7h-1zM225 704h2v1h-2zM225 705h1v7h-1zM224 712h2v1h-2zM224 713h1v7h-1zM223 720h2v1h-2zM223 721h1v7h-1zM222 728h2v1h-2zM222 729h1v7h-1zM221 736h2v1h-2zM221 737h1v8h-1zM220 745h2v1h-2zM220 746h1v7h-1zM219 753h2v1h-2zM219 754h1v7h-1zM218 761h2v1h-2zM218 762h1v7h-1zM217 769h2v1h-2zM217 770h1v7h-1zM216 777h2v1h-2zM216 778h1v7h-1zM215 785h2v1h-2zM215 786h1v7h-1zM214 793h2v1h-2zM214 794h1v7h-1zM213 801h2v1h-2zM213 802h1v7h-1zM212 809h2v1h-2zM212 810h1v7h-1zM211 817h2v1h-2zM211 818h1v7h-1zM210 825h2v1h-2zM210 826h1v7h-1zM209 833h2v1h-2zM209 834h1v7h-1zM208 841h2v1h-2zM208 842h1v8h-1z"/>
<path d="M204 837h8v1h-8zM202 838h12v1h-12zM200 839h16v1h-16zM199 840h18v1h-18zM198 841h20v1h-20zM197 842h22v2h-22zM196 844h24v2h-24zM196 846h25v1h-25zM195 847h26v6h-26zM196 853h25v1h-25zM196 854h24v2h-24zM197 856h22v1h-22zM198 857h21v1h-21zM198 858h20v1h-20zM199 859h18v1h-18zM201 860h15v1h-15zM202 861h12v1h-12zM205 862h6v1h-6z"/>
<path d="M233 614h5v1h-5zM230 615h11v1h-11zM228 616h15v1h-15zM227 617h17v1h-17zM226 618h19v1h-19zM225 619h21v1h-21zM225 620h22v1h-22zM224 621h23v1h-23zM224 622h24v1h-24zM223 623h25v2h-25zM223 625h26v4h-26zM223 629h25v3h-25zM224 632h24v1h-24zM224 633h23v1h-23zM225 634h21v1h-21zM226 635h20v1h-20zM226 636h19v1h-19zM228 637h16v1h-16zM229 638h13v1h-13zM231 639h9v1h-9z"/>
<path d="M268 341h7v1h-7zM266 342h12v1h-12zM264 343h15v1h-15zM263 344h18v1h-18zM262 345h20v1h-20zM261 346h21v1h-21zM260 347h23v2h-23zM260 349h24v1h-24zM259 350h25v2h-25zM259 352h26v4h-26zM259 356h25v2h-25zM260 358h24v2h-24zM260 360h23v1h-23zM261 361h21v1h-21zM262 362h20v1h-20zM263 363h18v1h-18zM264 364h15v1h-15zM266 365h12v1h-12zM268 366h7v1h-7z"/>
<path d="M310 250h8v1h-8zM308 251h12v1h-12zM306 252h16v1h-16zM305 253h18v1h-18zM304 254h20v1h-20zM303 255h22v2h-22zM302 257h24v2h-24zM302 259h25v1h-25zM301 260h26v6h-26zM302 266h25v1h-25zM302 267h24v2h-24zM303 269h22v1h-22zM304 270h21v1h-21zM304 271h20v1h-20zM305 272h18v1h-18zM307 273h15v1h-15zM308 274h12v1h-12zM311 275h7v1h-7z"/>
<path d="M366 371h3v1h-3zM362 372h10v1h-10zM360 373h14v1h-14zM359 374h17v1h-17zM358 375h19v1h-19zM357 376h21v1h-21zM356 377h22v1h-22zM356 378h23v1h-23zM355 379h24v1h-24zM355 380h25v2h-25zM354 382h26v5h-26zM355 387h25v2h-25zM355 389h24v1h-24zM356 390h23v1h-23zM356 391h22v1h-22zM357 392h20v1h-20zM358 393h18v1h-18zM359 394h16v1h-16zM360 395h14v1h-14zM362 396h10v1h-10z"/>
<path d="M438 331h7v1h-7zM435 332h13v1h-13zM434 333h15v1h-15zM432 334h18v1h-18zM432 335h19v1h-19zM431 336h21v1h-21zM430 337h23v2h-23zM429 339h25v4h-25zM428 343h26v2h-26zM429 345h25v4h-25zM430 349h23v2h-23zM431 351h21v1h-21zM432 352h19v1h-19zM433 353h17v1h-17zM434 354h15v1h-15zM436 355h11v1h-11zM438 356h7v1h-7z"/>
<path d="M524 27h4v1h-4zM521 28h11v1h-11zM519 29h15v1h-15zM518 30h17v1h-17zM517 31h19v1h-19zM516 32h21v1h-21zM515 33h22v1h-22zM515 34h23v1h-23zM514 35h24v1h-24zM514 36h25v2h-25zM513 38h26v5h-26zM514 43h25v2h-25zM514 45h24v1h-24zM515 46h23v1h-23zM515 47h22v1h-22zM516 48h20v1h-20zM517 49h19v1h-19zM518 50h16v1h-16zM520 51h13v1h-13zM522 52h9v1h-9z"/>
<path d="M628 139h9v1h-9zM626 140h13v1h-13zM624 141h17v1h-17zM623 142h19v1h-19zM622 143h21v2h-21zM621 145h23v1h-23zM620 146h24v1h-24zM620 147h25v3h-25zM619 150h26v3h-26zM620 153h25v3h-25zM620 156h24v1h-24zM621 157h23v1h-23zM621 158h22v1h-22zM622 159h21v1h-21zM623 160h19v1h-19zM624 161h17v1h-17zM625 162h15v1h-15zM627 163h11v1h-11zM630 164h4v1h-4z"/>
<path d="M767 351h6v1h-6zM765 352h11v1h-11zM763 353h15v1h-15zM762 354h17v1h-17zM761 355h19v1h-19zM760 356h21v1h-21zM759 357h22v1h-22zM759 358h23v1h-23zM758 359h24v1h-24zM758 360h25v2h-25zM757 362h26v5h-26zM758 367h25v2h-25zM758 369h24v1h-24zM759 370h23v1h-23zM760 371h21v1h-21zM760 372h20v1h-20zM761 373h18v1h-18zM762 374h16v1h-16zM764 375h13v1h-13zM766 376h8v1h-8z"/>
<path d="M948 270h5v1h-5zM945 271h11v1h-11zM943 272h15v1h-15zM942 273h17v1h-17zM941 274h19v1h-19zM940 275h21v1h-21zM939 276h23v2h-23zM938 278h25v4h-25zM938 282h26v3h-26zM938 285h25v3h-25zM939 288h23v2h-23zM940 290h21v1h-21zM941 291h20v1h-20zM942 292h18v1h-18zM943 293h16v1h-16zM944 294h13v1h-13zM946 295h9v1h-9z"/>
<path d="M1159 260h7v1h-7zM1157 261h12v1h-12zM1155 262h15v1h-15zM1154 263h18v1h-18zM1153 264h20v1h-20zM1152 265h21v1h-21zM1152 266h22v1h-22zM1151 267h23v1h-23zM1151 268h24v1h-24zM1150 269h25v2h-25zM1150 271h26v5h-26zM1150 276h25v1h-25zM1151 277h24v2h-24zM1151 279h23v1h-23zM1152 280h21v1h-21zM1153 281h20v1h-20zM1154 282h18v1h-18zM1155 283h16v1h-16zM1157 284h12v1h-12zM1159 285h8v1h-8z"/>
<path d="M1434 554h9v1h-9zM1432 555h13v1h-13zM1430 556h17v1h-17zM1429 557h19v1h-19zM1428 558h21v2h-21zM1427 560h23v1h-23zM1427 561h24v1h-24zM1426 562h25v3h-25zM1426 565h26v3h-26zM1426 568h25v3h-25zM1427 571h24v1h-24zM1427 572h23v1h-23zM1428 573h22v1h-22zM1428 574h21v1h-21zM1429 575h19v1h-19zM1430 576h17v1h-17zM1432 577h14v1h-14zM1433 578h11v1h-11zM1437 579h3v1h-3z"/>
</g>
<g fill="#0000ff" stroke="none">
<path d="M313 222h2v1h-2zM313 223h3v1h-3zM313 224h1v3h-1zM315 224h1v1h-1zM315 225h2v1h-2zM316 226h1v1h-1zM312 227h2v1h-2zM316 227h2v1h-2zM312 228h1v5h-1zM317 228h1v2h-1zM317 230h2v1h-2zM318 231h1v1h-1zM318 232h2v1h-2zM311 233h2v1h-2zM319 233h1v1h-1zM311 234h1v4h-1zM319 234h2v1h-2zM320 235h1v1h-1zM320 236h2v1h-2zM321 237h1v1h-1zM310 238h2v1h-2zM321 238h2v1h-2zM310 239h1v4h-1zM322 239h1v1h-1zM322 240h2v1h-2zM323 241h1v1h-1zM323 242h2v1h-2zM309 243h2v1h-2zM324 243h1v1h-1zM309 244h1v4h-1zM324 244h2v1h-2zM325 245h1v1h-1zM325 246h2v1h-2zM326 247h1v1h-1zM308 248h2v1h-2zM326 248h2v1h-2zM308 249h1v5h-1zM327 249h1v2h-1zM327 251h2v1h-2zM328 252h1v1h-1zM525 252h3v1h-3zM328 253h2v1h-2zM525 253h1v1h-1zM527 253h4v1h-4zM307 254h2v1h-2zM329 254h1v1h-1zM524 254h2v1h-2zM530 254h5v1h-5zM307 255h1v4h-1zM329 255h2v1h-2zM523 255h2v1h-2zM534 255h4v1h-4zM330 256h1v1h-1zM523 256h1v1h-1zM537 256h5v1h-5zM330 257h2v1h-2zM522 257h2v1h-2zM541 257h4v1h-4zM331 258h1v1h-1zM521 258h2v1h-2zM544 258h5v1h-5zM306 259h2v1h-2zM331 259h2v1h-2zM520 259h2v1h-2zM548 259h4v1h-4zM306 260h1v4h-1zM332 260h1v1h-1zM520 260h1v1h-1zM551 260h5v1h-5zM332 261h2v1h-2zM519 261h2v1h-2zM555 261h4v1h-4zM333 262h1v1h-1zM518 262h2v1h-2zM558 262h5v1h-5zM333 263h2v1h-2zM518 263h1v1h-1zM562 263h4v1h-4zM305 264h2v1h-2zM334 264h1v1h-1zM517 264h2v1h-2zM565 264h5v1h-5zM305 265h1v4h-1zM334 265h2v1h-2zM516 265h2v1h-2zM569 265h4v1h-4zM335 266h1v1h-1zM516 266h1v1h-1zM572 266h5v1h-5zM335 267h2v1h-2zM515 267h2v1h-2zM576 267h4v1h-4zM336 268h1v1h-1zM514 268h2v1h-2zM579 268h5v1h-5zM304 269h2v1h-2zM336 269h2v1h-2zM513 269h2v1h-2zM583 269h4v1h-4zM304 270h1v5h-1zM337 270h1v2h-1zM513 270h1v1h-1zM586 270h5v1h-5zM512 271h2v1h-2zM590 271h4v1h-4zM337 272h2v1h-2zM511 272h2v1h-2zM593 272h5v1h-5zM338 273h1v1h-1zM511 273h1v1h-1zM597 273h4v1h-4zM338 274h2v1h-2zM510 274h2v1h-2zM600 274h5v1h-5zM303 275h2v1h-2zM339 275h1v1h-1zM509 275h2v1h-2zM604 275h4v1h-4zM303 276h1v4h-1zM339 276h2v1h-2zM509 276h1v1h-1zM607 276h5v1h-5zM340 277h1v1h-1zM508 277h2v1h-2zM611 277h4v1h-4zM340 278h2v1h-2zM507 278h2v1h-2zM614 278h5v1h-5zM341 279h1v1h-1zM506 279h2v1h-2zM618 279h4v1h-4zM302 280h2v1h-2zM341 280h2v1h-2zM506 280h1v1h-1zM621 280h5v1h-5zM302 281h1v4h-1zM342 281h1v1h-1zM505 281h2v1h-2zM625 281h4v1h-4zM342 282h2v1h-2zM504 282h2v1h-2zM628 282h5v1h-5zM343 283h1v1h-1zM504 283h1v1h-1zM632 283h2v1h-2zM343 284h2v1h-2zM503 284h2v1h-2zM633 284h1v1h-1zM301 285h2v1h-2zM344 285h1v1h-1zM502 285h2v1h-2zM633 285h2v1h-2zM301 286h1v4h-1zM344 286h2v1h-2zM502 286h1v1h-1zM634 286h2v1h-2zM345 287h1v1h-1zM501 287h2v1h-2zM635 287h1v1h-1zM345 288h2v1h-2zM500 288h2v1h-2zM635 288h2v1h-2zM346 289h1v1h-1zM499 289h2v1h-2zM636 289h1v1h-1zM300 290h2v1h-2zM346 290h2v1h-2zM499 290h1v1h-1zM636 290h2v1h-2zM300 291h1v5h-1zM347 291h1v2h-1zM498 291h2v1h-2zM637 291h2v1h-2zM497 292h2v1h-2zM638 292h1v1h-1zM347 293h2v1h-2zM497 293h1v1h-1zM638 293h2v1h-2zM348 294h1v1h-1zM496 294h2v1h-2zM639 294h1v1h-1zM348 295h2v1h-2zM495 295h2v1h-2zM639 295h2v1h-2zM299 296h2v1h-2zM349 296h1v1h-1zM495 296h1v1h-1zM640 296h2v1h-2zM299 297h1v4h-1zM349 297h2v1h-2zM494 297h2v1h-2zM641 297h1v1h-1zM350 298h1v1h-1zM493 298h2v1h-2zM641 298h2v1h-2zM350 299h2v1h-2zM492 299h2v1h-2zM642 299h2v1h-2zM351 300h1v1h-1zM492 300h1v1h-1zM643 300h1v1h-1zM298 301h2v1h-2zM351 301h2v1h-2zM491 301h2v1h-2zM643 301h2v1h-2zM298 302h1v4h-1zM352 302h1v1h-1zM490 302h2v1h-2zM644 302h1v1h-1zM352 303h2v1h-2zM490 303h1v1h-1zM644 303h2v1h-2zM353 304h1v1h-1zM489 304h2v1h-2zM645 304h2v1h-2zM353 305h2v1h-2zM488 305h2v1h-2zM646 305h1v1h-1zM297 306h2v1h-2zM354 306h1v1h-1zM488 306h1v1h-1zM646 306h2v1h-2zM297 307h1v4h-1zM354 307h2v1h-2zM487 307h2v1h-2zM647 307h2v1h-2zM355 308h1v1h-1zM486 308h2v1h-2zM648 308h1v1h-1zM355 309h2v1h-2zM486 309h1v1h-1zM648 309h2v1h-2zM356 310h1v1h-1zM485 310h2v1h-2zM649 310h1v1h-1zM296 311h2v1h-2zM356 311h2v1h-2zM484 311h2v1h-2zM649 311h2v1h-2zM296 312h1v5h-1zM357 312h1v2h-1zM483 312h2v1h-2zM650 312h2v1h-2zM483 313h1v1h-1zM651 313h1v1h-1zM357 314h2v1h-2zM482 314h2v1h-2zM651 314h2v1h-2zM358 315h1v1h-1zM481 315h2v1h-2zM652 315h1v1h-1zM358 316h2v1h-2zM481 316h1v1h-1zM652 316h2v1h-2zM295 317h2v1h-2zM359 317h1v1h-1zM480 317h2v1h-2zM653 317h2v1h-2zM295 318h1v4h-1zM359 318h2v1h-2zM479 318h2v1h-2zM654 318h1v1h-1zM360 319h1v1h-1zM479 319h1v1h-1zM654 319h2v1h-2zM360 320h2v1h-2zM478 320h2v1h-2zM655 320h2v1h-2zM361 321h1v1h-1zM477 321h2v1h-2zM656 321h1v1h-1zM294 322h2v1h-2zM361 322h2v1h-2zM476 322h2v1h-2zM656 322h2v1h-2zM294 323h1v4h-1zM362 323h1v1h-1zM476 323h1v1h-1zM657 323h1v1h-1zM362 324h2v1h-2zM475 324h2v1h-2zM657 324h2v1h-2zM363 325h1v1h-1zM474 325h2v1h-2zM658 325h2v1h-2zM363 326h2v1h-2zM474 326h1v1h-1zM659 326h1v1h-1zM293 327h2v1h-2zM364 327h1v1h-1zM473 327h2v1h-2zM659 327h2v1h-2zM293 328h1v4h-1zM364 328h2v1h-2zM472 328h2v1h-2zM660 328h2v1h-2zM365 329h1v1h-1zM472 329h1v1h-1zM661 329h1v1h-1zM365 330h2v1h-2zM471 330h2v1h-2zM661 330h2v1h-2zM366 331h1v1h-1zM470 331h2v1h-2zM662 331h1v1h-1zM292 332h2v1h-2zM366 332h2v1h-2zM469 332h2v1h-2zM662 332h2v1h-2zM292 333h1v5h-1zM367 333h2v1h-2zM469 333h1v1h-1zM663 333h2v1h-2zM368 334h2v1h-2zM468 334h2v1h-2zM664 334h1v1h-1zM369 335h3v1h-3zM467 335h2v1h-2zM664 335h2v1h-2zM371 336h3v1h-3zM467 336h1v1h-1zM665 336h2v1h-2zM373 337h3v1h-3zM466 337h2v1h-2zM666 337h1v1h-1zM291 338h2v1h-2zM375 338h3v1h-3zM465 338h2v1h-2zM666 338h2v1h-2zM291 339h1v4h-1zM377 339h3v1h-3zM465 339h1v1h-1zM667 339h1v1h-1zM379 340h2v1h-2zM464 340h2v1h-2zM667 340h2v1h-2zM380 341h3v1h-3zM463 341h2v1h-2zM668 341h2v1h-2zM382 342h3v1h-3zM462 342h2v1h-2zM669 342h1v1h-1zM290 343h2v1h-2zM384 343h3v1h-3zM462 343h1v1h-1zM669 343h2v1h-2zM290 344h1v4h-1zM386 344h3v1h-3zM461 344h2v1h-2zM670 344h1v1h-1zM388 345h3v1h-3zM460 345h2v1h-2zM670 345h2v1h-2zM390 346h2v1h-2zM460 346h1v1h-1zM671 346h2v1h-2zM391 347h3v1h-3zM459 347h2v1h-2zM672 347h1v1h-1zM289 348h2v1h-2zM393 348h3v1h-3zM458 348h2v1h-2zM672 348h2v1h-2zM289 349h1v4h-1zM395 349h3v1h-3zM458 349h1v1h-1zM673 349h2v1h-2zM397 350h3v1h-3zM457 350h2v1h-2zM674 350h1v1h-1zM399 351h3v1h-3zM456 351h2v1h-2zM674 351h2v1h-2zM401 352h2v1h-2zM455 352h2v1h-2zM675 352h1v1h-1zM288 353h2v1h-2zM402 353h3v1h-3zM455 353h1v1h-1zM675 353h2v1h-2zM288 354h1v5h-1zM404 354h3v1h-3zM454 354h2v1h-2zM676 354h2v1h-2zM406 355h3v1h-3zM453 355h2v1h-2zM677 355h1v1h-1zM408 356h3v1h-3zM453 356h1v1h-1zM677 356h2v1h-2zM410 357h3v1h-3zM452 357h2v1h-2zM678 357h2v1h-2zM412 358h2v1h-2zM451 358h2v1h-2zM679 358h1v1h-1zM287 359h2v1h-2zM413 359h3v1h-3zM451 359h1v1h-1zM679 359h2v1h-2zM287 360h1v4h-1zM415 360h3v1h-3zM450 360h2v1h-2zM680 360h1v1h-1zM417 361h3v1h-3zM449 361h2v1h-2zM680 361h2v1h-2zM419 362h3v1h-3zM448 362h2v1h-2zM681 362h2v1h-2zM421 363h3v1h-3zM448 363h1v1h-1zM682 363h1v1h-1zM286 364h2v1h-2zM423 364h2v1h-2zM447 364h2v1h-2zM682 364h2v1h-2zM286 365h1v4h-1zM424 365h3v1h-3zM446 365h2v1h-2zM683 365h1v1h-1zM426 366h3v1h-3zM446 366h1v1h-1zM683 366h2v1h-2zM428 367h3v1h-3zM445 367h2v1h-2zM684 367h2v1h-2zM430 368h3v1h-3zM444 368h2v1h-2zM685 368h1v1h-1zM285 369h2v1h-2zM432 369h3v1h-3zM444 369h1v1h-1zM685 369h2v1h-2zM285 370h1v4h-1zM434 370h2v1h-2zM443 370h2v1h-2zM686 370h2v1h-2zM435 371h3v1h-3zM442 371h2v1h-2zM687 371h1v1h-1zM437 372h3v1h-3zM441 372h2v1h-2zM687 372h2v1h-2zM439 373h3v1h-3zM688 373h1v1h-1zM284 374h2v1h-2zM441 374h1v1h-1zM688 374h2v1h-2zM284 375h1v5h-1zM689 375h2v1h-2zM690 376h1v1h-1zM690 377h2v1h-2zM691 378h2v1h-2zM692 379h1v1h-1zM283 380h2v1h-2zM692 380h2v1h-2zM283 381h1v4h-1zM693 381h1v1h-1zM693 382h2v1h-2zM694 383h2v1h-2zM695 384h1v1h-1zM282 385h2v1h-2zM695 385h2v1h-2zM282 386h1v4h-1zM696 386h1v1h-1zM696 387h2v1h-2zM697 388h2v1h-2zM698 389h1v1h-1zM281 390h2v1h-2zM698 390h2v1h-2zM281 391h1v4h-1zM699 391h2v1h-2zM700 392h1v1h-1zM700 393h2v1h-2zM701 394h1v1h-1zM280 395h2v1h-2zM701 395h2v1h-2zM280 396h1v5h-1zM702 396h2v1h-2zM703 397h1v1h-1zM703 398h2v1h-2zM704 399h2v1h-2zM705 400h1v1h-1zM279 401h2v1h-2zM705 401h2v1h-2zM279 402h1v4h-1zM706 402h1v1h-1zM706 403h2v1h-2zM707 404h2v1h-2zM708 405h1v1h-1zM278 406h2v1h-2zM708 406h2v1h-2zM278 407h1v4h-1zM709 407h1v1h-1zM709 408h2v1h-2zM710 409h2v1h-2zM711 410h1v1h-1zM277 411h2v1h-2zM711 411h2v1h-2zM277 412h1v4h-1zM712 412h2v1h-2zM713 413h1v1h-1zM713 414h2v1h-2zM714 415h1v1h-1zM276 416h2v1h-2zM714 416h2v1h-2zM276 417h1v5h-1zM715 417h2v1h-2zM716 418h1v1h-1zM716 419h2v1h-2zM717 420h2v1h-2zM718 421h1v1h-1zM275 422h2v1h-2zM718 422h2v1h-2zM275 423h1v4h-1zM719 423h1v1h-1zM719 424h2v1h-2zM720 425h2v1h-2zM721 426h1v1h-1zM274 427h2v1h-2zM721 427h2v1h-2zM274 428h1v4h-1zM722 428h1v1h-1zM722 429h2v1h-2zM723 430h2v1h-2zM724 431h1v1h-1zM273 432h2v1h-2zM724 432h2v1h-2zM273 433h1v4h-1zM725 433h2v1h-2zM726 434h1v1h-1zM726 435h2v1h-2zM727 436h1v1h-1zM272 437h2v1h-2zM727 437h2v1h-2zM272 438h1v5h-1zM728 438h2v1h-2zM729 439h1v1h-1zM729 440h2v1h-2zM730 441h2v1h-2zM731 442h1v1h-1zM271 443h2v1h-2zM731 443h2v1h-2zM271 444h1v6h-1zM732 444h1v1h-1zM732 445h2v1h-2zM733 446h2v1h-2zM734 447h1v1h-1zM734 448h2v1h-2zM735 449h1v1h-1zM270 450h2v1h-2zM735 450h2v1h-2zM270 451h1v7h-1zM736 451h2v1h-2zM737 452h1v1h-1zM737 453h2v1h-2zM738 454h2v1h-2zM739 455h1v1h-1zM739 456h2v1h-2zM740 457h1v1h-1zM269 458h2v1h-2zM740 458h2v1h-2zM269 459h1v6h-1zM741 459h2v1h-2zM742 460h1v1h-1zM742 461h2v1h-2zM743 462h2v1h-2zM744 463h1v1h-1zM744 464h2v1h-2zM268 465h2v1h-2zM745 465h1v1h-1zM268 466h1v7h-1zM745 466h2v1h-2zM746 467h2v1h-2zM747 468h1v1h-1zM747 469h2v1h-2zM748 470h2v1h-2zM749 471h1v1h-1zM749 472h2v1h-2zM267 473h2v1h-2zM750 473h1v1h-1zM267 474h1v7h-1zM750 474h2v1h-2zM751 475h2v1h-2zM752 476h1v1h-1zM752 477h2v1h-2zM753 478h1v1h-1zM753 479h2v1h-2zM754 480h2v1h-2zM266 481h2v1h-2zM755 481h1v1h-1zM266 482h1v7h-1zM755 482h2v1h-2zM756 483h2v1h-2zM757 484h1v1h-1zM757 485h2v1h-2zM758 486h1v1h-1zM758 487h2v1h-2zM759 488h2v1h-2zM265 489h2v1h-2zM760 489h1v1h-1zM265 490h1v7h-1zM760 490h2v1h-2zM761 491h2v1h-2zM762 492h1v1h-1zM762 493h2v1h-2zM763 494h1v1h-1zM763 495h2v1h-2zM764 496h2v1h-2zM264 497h2v1h-2zM765 497h1v1h-1zM264 498h1v7h-1zM765 498h2v1h-2zM766 499h1v1h-1zM766 500h2v1h-2zM767 501h2v1h-2zM768 502h1v1h-1zM768 503h2v1h-2zM769 504h2v1h-2zM263 505h2v1h-2zM770 505h1v1h-1zM263 506h1v7h-1zM770 506h3v1h-3zM772 507h2v1h-2zM773 508h2v1h-2zM774 509h3v1h-3zM776 510h2v1h-2zM777 511h2v1h-2zM778 512h2v1h-2zM262 513h2v1h-2zM779 513h3v1h-3zM262 514h1v6h-1zM781 514h2v1h-2zM782 515h2v1h-2zM1162 515h2v1h-2zM783 516h2v1h-2zM1161 516h5v1h-5zM784 517h3v1h-3zM1159 517h3v1h-3zM1165 517h3v1h-3zM786 518h2v1h-2zM1158 518h2v1h-2zM1167 518h3v1h-3zM787 519h2v1h-2zM1156 519h3v1h-3zM1169 519h3v1h-3zM261 520h2v1h-2zM788 520h3v1h-3zM1155 520h2v1h-2zM1171 520h3v1h-3zM261 521h1v7h-1zM790 521h2v1h-2zM1153 521h3v1h-3zM1173 521h3v1h-3zM791 522h2v1h-2zM1151 522h3v1h-3zM1175 522h2v1h-2zM792 523h2v1h-2zM1150 523h2v1h-2zM1176 523h3v1h-3zM793 524h3v1h-3zM1148 524h3v1h-3zM1178 524h3v1h-3zM795 525h2v1h-2zM1147 525h2v1h-2zM1180 525h3v1h-3zM796 526h2v1h-2zM1145 526h3v1h-3zM1182 526h3v1h-3zM797 527h2v1h-2zM1143 527h3v1h-3zM1184 527h3v1h-3zM260 528h2v1h-2zM798 528h3v1h-3zM1142 528h2v1h-2zM1186 528h3v1h-3zM260 529h1v7h-1zM800 529h2v1h-2zM1140 529h3v1h-3zM1188 529h3v1h-3zM801 530h2v1h-2zM1139 530h2v1h-2zM1190 530h3v1h-3zM802 531h3v1h-3zM1137 531h3v1h-3zM1192 531h3v1h-3zM804 532h2v1h-2zM1135 532h3v1h-3zM1194 532h3v1h-3zM805 533h2v1h-2zM1134 533h2v1h-2zM1196 533h3v1h-3zM806 534h2v1h-2zM1132 534h3v1h-3zM1198 534h3v1h-3zM807 535h3v1h-3zM1130 535h3v1h-3zM1200 535h3v1h-3zM259 536h2v1h-2zM809 536h2v1h-2zM1129 536h2v1h-2zM1202 536h3v1h-3zM259 537h1v7h-1zM810 537h2v1h-2zM1127 537h3v1h-3zM1204 537h3v1h-3zM811 538h2v1h-2zM1126 538h2v1h-2zM1206 538h3v1h-3zM812 539h3v1h-3zM1124 539h3v1h-3zM1208 539h3v1h-3zM814 540h2v1h-2zM1122 540h3v1h-3zM1210 540h3v1h-3zM815 541h2v1h-2zM1121 541h2v1h-2zM1212 541h2v1h-2zM816 542h3v1h-3zM1119 542h3v1h-3zM1213 542h3v1h-3zM818 543h2v1h-2zM1118 543h2v1h-2zM1215 543h3v1h-3zM258 544h2v1h-2zM819 544h2v1h-2zM1116 544h3v1h-3zM1217 544h3v1h-3zM258 545h1v7h-1zM820 545h2v1h-2zM1114 545h3v1h-3zM1219 545h3v1h-3zM821 546h3v1h-3zM1113 546h2v1h-2zM1221 546h3v1h-3zM823 547h2v1h-2zM1111 547h3v1h-3zM1223 547h3v1h-3zM824 548h2v1h-2zM1109 548h3v1h-3zM1225 548h3v1h-3zM825 549h2v1h-2zM1108 549h2v1h-2zM1227 549h3v1h-3zM826 550h3v1h-3zM1106 550h3v1h-3zM1229 550h3v1h-3zM828 551h2v1h-2zM1105 551h2v1h-2zM1231 551h3v1h-3zM257 552h2v1h-2zM829 552h2v1h-2zM1103 552h3v1h-3zM1233 552h3v1h-3zM257 553h1v7h-1zM830 553h3v1h-3zM1101 553h3v1h-3zM1235 553h3v1h-3zM832 554h2v1h-2zM1100 554h2v1h-2zM1237 554h3v1h-3zM833 555h2v1h-2zM1098 555h3v1h-3zM1239 555h3v1h-3zM834 556h2v1h-2zM1097 556h2v1h-2zM1241 556h3v1h-3zM835 557h3v1h-3zM1095 557h3v1h-3zM1243 557h3v1h-3zM837 558h2v1h-2zM1093 558h3v1h-3zM1245 558h3v1h-3zM838 559h2v1h-2zM1092 559h2v1h-2zM1247 559h2v1h-2zM256 560h2v1h-2zM839 560h2v1h-2zM1090 560h3v1h-3zM1248 560h3v1h-3zM256 561h1v7h-1zM840 561h3v1h-3zM1089 561h2v1h-2zM1250 561h3v1h-3zM842 562h2v1h-2zM1087 562h3v1h-3zM1252 562h3v1h-3zM843 563h2v1h-2zM1085 563h3v1h-3zM1254 563h3v1h-3zM844 564h3v1h-3zM1084 564h2v1h-2zM1256 564h3v1h-3zM846 565h2v1h-2zM1082 565h3v1h-3zM1258 565h3v1h-3zM847 566h2v1h-2zM1080 566h3v1h-3zM1260 566h3v1h-3zM848 567h2v1h-2zM1079 567h2v1h-2zM1262 567h3v1h-3zM255 568h2v1h-2zM849 568h3v1h-3zM1077 568h3v1h-3zM1264 568h3v1h-3zM255 569h1v6h-1zM851 569h2v1h-2zM1076 569h2v1h-2zM1266 569h3v1h-3zM852 570h2v1h-2zM1074 570h3v1h-3zM1268 570h3v1h-3zM853 571h2v1h-2zM1072 571h3v1h-3zM1270 571h3v1h-3zM854 572h3v1h-3zM1071 572h2v1h-2zM1272 572h3v1h-3zM856 573h2v1h-2zM1069 573h3v1h-3zM1274 573h3v1h-3zM857 574h2v1h-2zM1068 574h2v1h-2zM1276 574h3v1h-3zM254 575h2v1h-2zM858 575h3v1h-3zM1066 575h3v1h-3zM1278 575h3v1h-3zM254 576h1v7h-1zM860 576h2v1h-2zM1064 576h3v1h-3zM1280 576h3v1h-3zM861 577h2v1h-2zM1063 577h2v1h-2zM1282 577h3v1h-3zM862 578h2v1h-2zM1061 578h3v1h-3zM1284 578h2v1h-2zM863 579h3v1h-3zM1059 579h3v1h-3zM1285 579h3v1h-3zM865 580h2v1h-2zM1058 580h2v1h-2zM1287 580h3v1h-3zM866 581h2v1h-2zM1056 581h3v1h-3zM1289 581h3v1h-3zM867 582h2v1h-2zM1055 582h2v1h-2zM1291 582h3v1h-3zM253 583h2v1h-2zM868 583h3v1h-3zM1053 583h3v1h-3zM1293 583h3v1h-3zM253 584h1v7h-1zM870 584h2v1h-2zM1051 584h3v1h-3zM1295 584h3v1h-3zM871 585h2v1h-2zM1050 585h2v1h-2zM1297 585h3v1h-3zM872 586h3v1h-3zM1048 586h3v1h-3zM1299 586h3v1h-3zM874 587h2v1h-2zM1047 587h2v1h-2zM1301 587h3v1h-3zM875 588h2v1h-2zM1045 588h3v1h-3zM1303 588h3v1h-3zM876 589h2v1h-2zM1043 589h3v1h-3zM1305 589h3v1h-3zM877 590h3v1h-3zM1042 590h2v1h-2zM1307 590h3v1h-3zM252 591h2v1h-2zM879 591h2v1h-2zM1040 591h3v1h-3zM1309 591h3v1h-3zM252 592h1v7h-1zM880 592h2v1h-2zM1039 592h2v1h-2zM1311 592h3v1h-3zM881 593h2v1h-2zM1037 593h3v1h-3zM1313 593h3v1h-3zM882 594h3v1h-3zM1035 594h3v1h-3zM1315 594h3v1h-3zM884 595h2v1h-2zM1034 595h2v1h-2zM1317 595h3v1h-3zM885 596h2v1h-2zM1032 596h3v1h-3zM1319 596h3v1h-3zM886 597h3v1h-3zM1030 597h3v1h-3zM1321 597h2v1h-2zM888 598h2v1h-2zM1029 598h2v1h-2zM1322 598h3v1h-3zM251 599h2v1h-2zM889 599h2v1h-2zM1027 599h3v1h-3zM1324 599h3v1h-3zM251 600h1v7h-1zM890 600h2v1h-2zM1026 600h2v1h-2zM1326 600h3v1h-3zM891 601h3v1h-3zM1024 601h3v1h-3zM1328 601h3v1h-3zM893 602h2v1h-2zM1022 602h3v1h-3zM1330 602h3v1h-3zM894 603h2v1h-2zM1021 603h2v1h-2zM1332 603h3v1h-3zM895 604h2v1h-2zM1019 604h3v1h-3zM1334 604h3v1h-3zM896 605h3v1h-3zM1018 605h2v1h-2zM1336 605h3v1h-3zM898 606h2v1h-2zM1016 606h3v1h-3zM1338 606h3v1h-3zM250 607h2v1h-2zM899 607h2v1h-2zM1014 607h3v1h-3zM1340 607h3v1h-3zM250 608h1v7h-1zM900 608h3v1h-3zM1013 608h2v1h-2zM1342 608h3v1h-3zM902 609h2v1h-2zM1011 609h3v1h-3zM1344 609h3v1h-3zM903 610h2v1h-2zM1009 610h3v1h-3zM1346 610h3v1h-3zM904 611h2v1h-2zM1008 611h2v1h-2zM1348 611h3v1h-3zM905 612h3v1h-3zM1006 612h3v1h-3zM1350 612h3v1h-3zM907 613h2v1h-2zM1005 613h2v1h-2zM1352 613h3v1h-3zM908 614h2v1h-2zM1003 614h3v1h-3zM1354 614h3v1h-3zM249 615h2v1h-2zM909 615h2v1h-2zM1001 615h3v1h-3zM1356 615h2v1h-2zM249 616h1v7h-1zM910 616h3v1h-3zM1000 616h2v1h-2zM1357 616h3v1h-3zM912 617h2v1h-2zM998 617h3v1h-3zM1359 617h3v1h-3zM913 618h2v1h-2zM997 618h2v1h-2zM1361 618h3v1h-3zM914 619h3v1h-3zM995 619h3v1h-3zM1363 619h3v1h-3zM916 620h2v1h-2zM993 620h3v1h-3zM1365 620h3v1h-3zM917 621h2v1h-2zM992 621h2v1h-2zM1367 621h3v1h-3zM918 622h2v1h-2zM990 622h3v1h-3zM1369 622h3v1h-3zM248 623h2v1h-2zM919 623h3v1h-3zM989 623h2v1h-2zM1371 623h3v1h-3zM248 624h1v6h-1zM921 624h2v1h-2zM987 624h3v1h-3zM1373 624h3v1h-3zM922 625h2v1h-2zM985 625h3v1h-3zM1375 625h3v1h-3zM923 626h2v1h-2zM984 626h2v1h-2zM1377 626h3v1h-3zM924 627h3v1h-3zM982 627h3v1h-3zM1379 627h3v1h-3zM926 628h2v1h-2zM980 628h3v1h-3zM1381 628h3v1h-3zM927 629h2v1h-2zM979 629h2v1h-2zM1383 629h3v1h-3zM247 630h2v1h-2zM928 630h3v1h-3zM977 630h3v1h-3zM1385 630h3v1h-3zM247 631h1v7h-1zM930 631h2v1h-2zM976 631h2v1h-2zM1387 631h3v1h-3zM931 632h2v1h-2zM974 632h3v1h-3zM1389 632h3v1h-3zM932 633h2v1h-2zM972 633h3v1h-3zM1391 633h3v1h-3zM933 634h3v1h-3zM971 634h2v1h-2zM1393 634h2v1h-2zM935 635h2v1h-2zM969 635h3v1h-3zM1394 635h3v1h-3zM936 636h2v1h-2zM968 636h2v1h-2zM1396 636h3v1h-3zM937 637h2v1h-2zM966 637h3v1h-3zM1398 637h3v1h-3zM246 638h2v1h-2zM938 638h3v1h-3zM964 638h3v1h-3zM1400 638h3v1h-3zM246 639h1v7h-1zM940 639h2v1h-2zM963 639h2v1h-2zM1402 639h3v1h-3zM941 640h2v1h-2zM961 640h3v1h-3zM1404 640h3v1h-3zM942 641h3v1h-3zM960 641h2v1h-2zM1406 641h3v1h-3zM944 642h2v1h-2zM958 642h3v1h-3zM1408 642h3v1h-3zM945 643h2v1h-2zM956 643h3v1h-3zM1410 643h3v1h-3zM946 644h2v1h-2zM955 644h2v1h-2zM1412 644h3v1h-3zM947 645h3v1h-3zM953 645h3v1h-3zM1414 645h3v1h-3zM245 646h2v1h-2zM949 646h5v1h-5zM1416 646h3v1h-3zM245 647h1v7h-1zM950 647h2v1h-2zM1418 647h3v1h-3zM1420 648h3v1h-3zM1422 649h3v1h-3zM1424 650h3v1h-3zM1426 651h3v1h-3zM1428 652h3v1h-3zM1430 653h2v1h-2zM244 654h2v1h-2zM1431 654h3v1h-3zM244 655h1v7h-1zM1433 655h3v1h-3zM1435 656h3v1h-3zM1437 657h2v1h-2zM243 662h2v1h-2zM243 663h1v7h-1zM242 670h2v1h-2zM242 671h1v7h-1zM241 678h2v1h-2zM241 679h1v6h-1zM240 685h2v1h-2zM240 686h1v7h-1zM239 693h2v1h-2zM239 694h1v7h-1zM238 701h2v1h-2zM238 702h1v7h-1zM237 709h2v1h-2zM237 710h1v7h-1zM236 717h2v1h-2zM236 718h1v7h-1zM235 725h2v1h-2zM235 726h1v5h-1zM234 731h2v1h-2zM234 732h1v4h-1zM233 736h2v1h-2zM233 737h1v4h-1zM232 741h2v1h-2zM232 742h1v4h-1zM231 746h2v1h-2zM231 747h1v4h-1zM230 751h2v1h-2zM230 752h1v4h-1zM229 756h2v1h-2zM229 757h1v5h-1zM228 762h2v1h-2zM228 763h1v4h-1zM227 767h2v1h-2zM227 768h1v4h-1zM226 772h2v1h-2zM226 773h1v4h-1zM225 777h2v1h-2zM225 778h1v4h-1zM224 782h2v1h-2zM224 783h1v4h-1zM223 787h2v1h-2zM223 788h1v4h-1zM222 792h2v1h-2zM222 793h1v5h-1zM221 798h2v1h-2zM221 799h1v4h-1zM220 803h2v1h-2zM220 804h1v4h-1zM219 808h2v1h-2zM219 809h1v4h-1zM218 813h2v1h-2zM218 814h1v4h-1zM217 818h2v1h-2zM217 819h1v4h-1zM216 823h2v1h-2zM216 824h1v4h-1zM215 828h2v1h-2zM215 829h1v5h-1zM214 834h2v1h-2zM214 835h1v4h-1zM213 839h2v1h-2zM213 840h1v4h-1zM212 844h2v1h-2zM212 845h1v4h-1zM211 849h2v1h-2zM211 850h1v4h-1zM210 854h2v1h-2zM210 855h1v4h-1zM209 859h2v1h-2zM209 860h1v4h-1zM208 864h2v1h-2zM208 865h1v6h-1z"/>
<path d="M207 853h2v1h-2zM206 854h4v1h-4zM206 855h5v1h-5zM205 856h6v1h-6zM204 857h8v2h-8zM203 859h10v2h-10zM202 861h12v1h-12zM202 862h13v1h-13zM201 863h14v1h-14zM200 864h16v2h-16zM199 866h18v2h-18zM198 868h20v1h-20zM198 869h21v1h-21zM197 870h22v1h-22zM196 871h24v2h-24zM195 873h26v2h-26zM194 875h28v1h-28zM194 876h29v1h-29zM193 877h30v2h-30z"/>
<path d="M235 711h2v1h-2zM234 712h3v1h-3zM233 713h5v2h-5zM232 715h7v1h-7zM232 716h8v1h-8zM231 717h9v1h-9zM231 718h10v1h-10zM230 719h11v1h-11zM229 720h13v1h-13zM229 721h14v1h-14zM228 722h15v1h-15zM228 723h16v1h-16zM227 724h17v1h-17zM226 725h19v2h-19zM225 727h21v1h-21zM225 728h22v1h-22zM224 729h23v1h-23zM224 730h24v1h-24zM223 731h25v1h-25zM222 732h27v2h-27zM221 734h29v1h-29zM221 735h30v1h-30zM220 736h31v2h-31z"/>
<path d="M270 428h3v1h-3zM270 429h4v1h-4zM269 430h5v1h-5zM269 431h6v1h-6zM268 432h7v1h-7zM268 433h8v1h-8zM267 434h9v1h-9zM266 435h11v1h-11zM266 436h12v1h-12zM265 437h13v1h-13zM265 438h14v1h-14zM264 439h15v1h-15zM263 440h17v1h-17zM263 441h18v1h-18zM262 442h19v1h-19zM262 443h20v1h-20zM261 444h21v1h-21zM261 445h22v1h-22zM260 446h23v1h-23zM259 447h25v1h-25zM259 448h26v1h-26zM258 449h27v1h-27zM258 450h28v1h-28zM257 451h29v1h-29zM257 452h30v1h-30zM256 453h31v1h-31z"/>
<path d="M313 205h2v1h-2zM312 206h4v2h-4zM311 208h6v1h-6zM311 209h7v1h-7zM310 210h8v1h-8zM310 211h9v1h-9zM309 212h10v1h-10zM308 213h12v2h-12zM307 215h14v1h-14zM307 216h15v1h-15zM306 217h16v1h-16zM306 218h17v1h-17zM305 219h18v1h-18zM304 220h20v2h-20zM303 222h22v1h-22zM303 223h23v1h-23zM302 224h24v1h-24zM301 225h26v2h-26zM300 227h28v1h-28zM300 228h29v1h-29zM299 229h30v3h-30z"/>
<path d="M366 317h3v1h-3zM365 318h4v1h-4zM365 319h5v1h-5zM364 320h6v1h-6zM363 321h8v1h-8zM363 322h9v1h-9zM362 323h10v1h-10zM362 324h11v1h-11zM361 325h12v1h-12zM360 326h14v2h-14zM359 328h16v1h-16zM359 329h17v1h-17zM358 330h18v1h-18zM358 331h19v1h-19zM357 332h20v1h-20zM356 333h22v2h-22zM355 335h24v1h-24zM355 336h25v1h-25zM354 337h26v1h-26zM354 338h27v1h-27zM353 339h28v1h-28zM352 340h30v3h-30z"/>
<path d="M440 357h3v2h-3zM439 359h5v1h-5zM438 360h6v1h-6zM438 361h7v1h-7zM437 362h9v2h-9zM436 364h11v2h-11zM435 366h13v1h-13zM434 367h14v1h-14zM434 368h15v1h-15zM433 369h17v2h-17zM432 371h19v2h-19zM431 373h21v1h-21zM430 374h22v1h-22zM430 375h23v1h-23zM429 376h25v2h-25zM428 378h27v2h-27zM427 380h29v1h-29zM426 381h31v2h-31z"/>
<path d="M525 236h3v1h-3zM524 237h4v1h-4zM524 238h5v1h-5zM523 239h6v1h-6zM523 240h7v1h-7zM522 241h9v1h-9zM521 242h10v1h-10zM521 243h11v1h-11zM520 244h12v1h-12zM520 245h13v1h-13zM519 246h15v1h-15zM518 247h16v1h-16zM518 248h17v1h-17zM517 249h18v1h-18zM517 250h19v1h-19zM516 251h20v1h-20zM516 252h21v1h-21zM515 253h23v1h-23zM514 254h24v1h-24zM514 255h25v1h-25zM513 256h26v1h-26zM513 257h27v1h-27zM512 258h28v1h-28zM512 259h29v1h-29zM511 260h31v2h-31z"/>
<path d="M631 266h3v2h-3zM630 268h5v1h-5zM629 269h6v1h-6zM629 270h7v1h-7zM628 271h9v2h-9zM627 273h11v1h-11zM626 274h12v1h-12zM626 275h13v1h-13zM625 276h14v1h-14zM625 277h15v1h-15zM624 278h17v2h-17zM623 280h19v1h-19zM622 281h20v1h-20zM622 282h21v1h-21zM621 283h22v1h-22zM621 284h23v1h-23zM620 285h25v2h-25zM619 287h27v1h-27zM618 288h28v1h-28zM618 289h29v1h-29zM617 290h30v1h-30zM617 291h31v1h-31z"/>
<path d="M769 489h3v1h-3zM768 490h4v1h-4zM768 491h5v1h-5zM767 492h6v1h-6zM766 493h8v1h-8zM766 494h9v1h-9zM765 495h10v1h-10zM765 496h11v1h-11zM764 497h12v1h-12zM764 498h13v1h-13zM763 499h15v1h-15zM762 500h16v1h-16zM762 501h17v1h-17zM761 502h18v1h-18zM761 503h19v1h-19zM760 504h20v1h-20zM760 505h21v1h-21zM759 506h23v1h-23zM758 507h24v1h-24zM758 508h25v1h-25zM757 509h26v1h-26zM757 510h27v1h-27zM756 511h28v1h-28zM756 512h29v1h-29zM755 513h31v2h-31z"/>
<path d="M950 630h2v1h-2zM949 631h3v1h-3zM948 632h5v2h-5zM947 634h7v1h-7zM947 635h8v1h-8zM946 636h9v1h-9zM945 637h11v2h-11zM944 639h13v2h-13zM943 641h15v1h-15zM943 642h16v1h-16zM942 643h17v1h-17zM941 644h19v2h-19zM940 646h21v2h-21zM939 648h23v1h-23zM939 649h24v1h-24zM938 650h25v1h-25zM937 651h27v2h-27zM936 653h29v1h-29zM936 654h30v1h-30zM935 655h31v2h-31z"/>
<path d="M1161 499h3v1h-3zM1161 500h4v1h-4zM1160 501h5v1h-5zM1160 502h6v1h-6zM1159 503h7v1h-7zM1158 504h9v1h-9zM1158 505h10v1h-10zM1157 506h11v1h-11zM1157 507h12v1h-12zM1156 508h13v1h-13zM1156 509h14v1h-14zM1155 510h16v1h-16zM1154 511h17v1h-17zM1154 512h18v1h-18zM1153 513h19v1h-19zM1153 514h20v1h-20zM1152 515h21v1h-21zM1152 516h22v1h-22zM1151 517h24v1h-24zM1150 518h25v1h-25zM1150 519h26v1h-26zM1149 520h27v1h-27zM1149 521h28v1h-28zM1148 522h29v1h-29zM1148 523h30v2h-30z"/>
<path d="M1438 640h2v1h-2zM1437 641h3v1h-3zM1436 642h5v2h-5zM1435 644h7v2h-7zM1434 646h9v1h-9zM1434 647h10v1h-10zM1433 648h11v1h-11zM1432 649h13v2h-13zM1431 651h15v2h-15zM1430 653h17v1h-17zM1429 654h19v2h-19zM1428 656h21v2h-21zM1427 658h23v1h-23zM1427 659h24v1h-24zM1426 660h25v1h-25zM1425 661h27v2h-27zM1424 663h29v2h-29zM1423 665h31v2h-31z"/>
</g>
<g fill="#ff00ff" stroke="none">
<path d="M525 131h4v1h-4zM525 132h1v2h-1zM528 132h5v1h-5zM532 133h4v1h-4zM524 134h2v1h-2zM535 134h5v1h-5zM524 135h1v1h-1zM539 135h4v1h-4zM523 136h2v1h-2zM542 136h5v1h-5zM523 137h1v2h-1zM546 137h4v1h-4zM549 138h5v1h-5zM522 139h2v1h-2zM553 139h4v1h-4zM522 140h1v2h-1zM556 140h5v1h-5zM313 141h2v1h-2zM560 141h4v1h-4zM313 142h2v1h-2zM521 142h2v1h-2zM563 142h5v1h-5zM313 143h3v1h-3zM521 143h1v1h-1zM567 143h4v1h-4zM313 144h1v3h-1zM315 144h1v1h-1zM520 144h2v1h-2zM570 144h5v1h-5zM315 145h2v1h-2zM520 145h1v2h-1zM574 145h4v1h-4zM316 146h1v2h-1zM577 146h5v1h-5zM312 147h2v1h-2zM519 147h2v1h-2zM581 147h4v1h-4zM312 148h1v4h-1zM316 148h2v1h-2zM519 148h1v2h-1zM584 148h5v1h-5zM317 149h1v1h-1zM588 149h4v1h-4zM317 150h2v1h-2zM518 150h2v1h-2zM591 150h5v1h-5zM318 151h1v2h-1zM518 151h1v1h-1zM595 151h4v1h-4zM311 152h2v1h-2zM517 152h2v1h-2zM598 152h5v1h-5zM311 153h1v4h-1zM318 153h2v1h-2zM517 153h1v2h-1zM602 153h4v1h-4zM319 154h1v1h-1zM605 154h5v1h-5zM319 155h2v1h-2zM516 155h2v1h-2zM609 155h4v1h-4zM320 156h1v2h-1zM516 156h1v1h-1zM612 156h5v1h-5zM310 157h2v1h-2zM515 157h2v1h-2zM616 157h4v1h-4zM310 158h1v4h-1zM320 158h2v1h-2zM515 158h1v2h-1zM619 158h5v1h-5zM321 159h1v1h-1zM623 159h4v1h-4zM321 160h2v1h-2zM514 160h2v1h-2zM626 160h5v1h-5zM322 161h1v1h-1zM514 161h1v2h-1zM630 161h3v1h-3zM309 162h2v1h-2zM322 162h2v1h-2zM632 162h2v1h-2zM309 163h1v5h-1zM323 163h1v2h-1zM513 163h2v1h-2zM633 163h1v1h-1zM513 164h1v1h-1zM633 164h2v1h-2zM323 165h2v1h-2zM512 165h2v1h-2zM634 165h1v1h-1zM324 166h1v1h-1zM512 166h1v2h-1zM634 166h2v1h-2zM324 167h2v1h-2zM635 167h1v1h-1zM308 168h2v1h-2zM325 168h1v2h-1zM511 168h2v1h-2zM635 168h2v1h-2zM308 169h1v4h-1zM511 169h1v2h-1zM636 169h1v2h-1zM325 170h2v1h-2zM326 171h1v1h-1zM510 171h2v1h-2zM636 171h2v1h-2zM326 172h2v1h-2zM510 172h1v1h-1zM637 172h1v1h-1zM307 173h2v1h-2zM327 173h1v2h-1zM509 173h2v1h-2zM637 173h2v1h-2zM307 174h1v4h-1zM509 174h1v2h-1zM638 174h1v1h-1zM327 175h2v1h-2zM638 175h2v1h-2zM328 176h1v1h-1zM508 176h2v1h-2zM639 176h1v1h-1zM328 177h2v1h-2zM508 177h1v1h-1zM639 177h2v1h-2zM306 178h2v1h-2zM329 178h1v2h-1zM507 178h2v1h-2zM640 178h1v1h-1zM306 179h1v4h-1zM507 179h1v2h-1zM640 179h2v1h-2zM329 180h2v1h-2zM641 180h1v1h-1zM330 181h1v1h-1zM506 181h2v1h-2zM641 181h2v1h-2zM330 182h2v1h-2zM506 182h1v2h-1zM642 182h1v1h-1zM305 183h2v1h-2zM331 183h1v2h-1zM642 183h2v1h-2zM305 184h1v4h-1zM505 184h2v1h-2zM643 184h1v2h-1zM331 185h2v1h-2zM505 185h1v1h-1zM332 186h1v1h-1zM504 186h2v1h-2zM643 186h2v1h-2zM332 187h2v1h-2zM504 187h1v2h-1zM644 187h1v1h-1zM304 188h2v1h-2zM333 188h1v2h-1zM644 188h2v1h-2zM304 189h1v5h-1zM503 189h2v1h-2zM645 189h1v1h-1zM333 190h2v1h-2zM503 190h1v2h-1zM645 190h2v1h-2zM334 191h1v1h-1zM646 191h1v1h-1zM334 192h2v1h-2zM502 192h2v1h-2zM646 192h2v1h-2zM1161 192h4v1h-4zM335 193h1v2h-1zM502 193h1v1h-1zM647 193h1v1h-1zM1161 193h1v1h-1zM1164 193h3v1h-3zM303 194h2v1h-2zM501 194h2v1h-2zM647 194h2v1h-2zM1160 194h2v1h-2zM1166 194h2v1h-2zM303 195h1v4h-1zM335 195h2v1h-2zM501 195h1v2h-1zM648 195h1v1h-1zM1159 195h2v1h-2zM1167 195h3v1h-3zM336 196h1v1h-1zM648 196h2v1h-2zM1158 196h2v1h-2zM1169 196h2v1h-2zM336 197h2v1h-2zM500 197h2v1h-2zM649 197h1v1h-1zM1158 197h1v1h-1zM1170 197h3v1h-3zM337 198h1v2h-1zM500 198h1v1h-1zM649 198h2v1h-2zM1157 198h2v1h-2zM1172 198h2v1h-2zM302 199h2v1h-2zM499 199h2v1h-2zM650 199h1v1h-1zM1156 199h2v1h-2zM1173 199h3v1h-3zM302 200h1v4h-1zM337 200h2v1h-2zM499 200h1v2h-1zM650 200h2v1h-2zM1155 200h2v1h-2zM1175 200h2v1h-2zM338 201h1v1h-1zM651 201h1v2h-1zM1155 201h1v1h-1zM1176 201h3v1h-3zM338 202h2v1h-2zM498 202h2v1h-2zM1154 202h2v1h-2zM1178 202h2v1h-2zM339 203h1v2h-1zM498 203h1v2h-1zM651 203h2v1h-2zM1153 203h2v1h-2zM1179 203h3v1h-3zM301 204h2v1h-2zM652 204h1v1h-1zM1153 204h1v1h-1zM1181 204h2v1h-2zM301 205h1v4h-1zM339 205h2v1h-2zM497 205h2v1h-2zM652 205h2v1h-2zM1152 205h2v1h-2zM1182 205h3v1h-3zM340 206h1v1h-1zM497 206h1v1h-1zM653 206h1v1h-1zM1151 206h2v1h-2zM1184 206h2v1h-2zM340 207h2v1h-2zM496 207h2v1h-2zM653 207h2v1h-2zM1150 207h2v1h-2zM1185 207h3v1h-3zM341 208h1v2h-1zM496 208h1v2h-1zM654 208h1v1h-1zM1150 208h1v1h-1zM1187 208h2v1h-2zM300 209h2v1h-2zM654 209h2v1h-2zM1149 209h2v1h-2zM1188 209h3v1h-3zM300 210h1v5h-1zM341 210h2v1h-2zM495 210h2v1h-2zM655 210h1v1h-1zM1148 210h2v1h-2zM1190 210h2v1h-2zM342 211h1v1h-1zM495 211h1v2h-1zM655 211h2v1h-2zM1148 211h1v1h-1zM1191 211h3v1h-3zM342 212h2v1h-2zM656 212h1v1h-1zM1147 212h2v1h-2zM1193 212h2v1h-2zM343 213h1v2h-1zM494 213h2v1h-2zM656 213h2v1h-2zM1146 213h2v1h-2zM1194 213h3v1h-3zM494 214h1v1h-1zM657 214h1v1h-1zM1145 214h2v1h-2zM1196 214h2v1h-2zM299 215h2v1h-2zM343 215h2v1h-2zM493 215h2v1h-2zM657 215h2v1h-2zM1145 215h1v1h-1zM1197 215h3v1h-3zM299 216h1v4h-1zM344 216h1v1h-1zM493 216h1v2h-1zM658 216h1v1h-1zM1144 216h2v1h-2zM1199 216h2v1h-2zM344 217h2v1h-2zM658 217h2v1h-2zM1143 217h2v1h-2zM1200 217h3v1h-3zM345 218h1v2h-1zM492 218h2v1h-2zM659 218h1v2h-1zM1142 218h2v1h-2zM1202 218h2v1h-2zM492 219h1v1h-1zM1142 219h1v1h-1zM1203 219h3v1h-3zM298 220h2v1h-2zM345 220h2v1h-2zM491 220h2v1h-2zM659 220h2v1h-2zM1141 220h2v1h-2zM1205 220h2v1h-2zM298 221h1v4h-1zM346 221h1v1h-1zM491 221h1v2h-1zM660 221h1v1h-1zM1140 221h2v1h-2zM1206 221h3v1h-3zM346 222h2v1h-2zM660 222h2v1h-2zM1140 222h1v1h-1zM1208 222h3v1h-3zM347 223h1v2h-1zM490 223h2v1h-2zM661 223h1v1h-1zM1139 223h2v1h-2zM1210 223h2v1h-2zM490 224h1v2h-1zM661 224h2v1h-2zM1138 224h2v1h-2zM1211 224h3v1h-3zM297 225h2v1h-2zM347 225h2v1h-2zM662 225h1v1h-1zM1137 225h2v1h-2zM1213 225h2v1h-2zM297 226h1v4h-1zM348 226h1v1h-1zM489 226h2v1h-2zM662 226h2v1h-2zM1137 226h1v1h-1zM1214 226h3v1h-3zM348 227h2v1h-2zM489 227h1v1h-1zM663 227h1v1h-1zM1136 227h2v1h-2zM1216 227h2v1h-2zM349 228h1v1h-1zM488 228h2v1h-2zM663 228h2v1h-2zM1135 228h2v1h-2zM1217 228h3v1h-3zM349 229h2v1h-2zM488 229h1v2h-1zM664 229h1v1h-1zM1135 229h1v1h-1zM1219 229h2v1h-2zM296 230h2v1h-2zM350 230h1v2h-1zM664 230h2v1h-2zM1134 230h2v1h-2zM1220 230h3v1h-3zM296 231h1v5h-1zM487 231h2v1h-2zM665 231h1v1h-1zM1133 231h2v1h-2zM1222 231h2v1h-2zM350 232h2v1h-2zM487 232h1v1h-1zM665 232h2v1h-2zM1132 232h2v1h-2zM1223 232h3v1h-3zM351 233h1v1h-1zM486 233h2v1h-2zM666 233h1v1h-1zM1132 233h1v1h-1zM1225 233h2v1h-2zM351 234h2v1h-2zM486 234h1v2h-1zM666 234h2v1h-2zM1131 234h2v1h-2zM1226 234h3v1h-3zM352 235h1v2h-1zM667 235h1v2h-1zM1130 235h2v1h-2zM1228 235h2v1h-2zM295 236h2v1h-2zM485 236h2v1h-2zM1129 236h2v1h-2zM1229 236h3v1h-3zM295 237h1v4h-1zM352 237h2v1h-2zM485 237h1v2h-1zM667 237h2v1h-2zM1129 237h1v1h-1zM1231 237h2v1h-2zM353 238h1v1h-1zM668 238h1v1h-1zM1128 238h2v1h-2zM1232 238h3v1h-3zM353 239h2v1h-2zM484 239h2v1h-2zM668 239h2v1h-2zM1127 239h2v1h-2zM1234 239h2v1h-2zM354 240h1v2h-1zM484 240h1v1h-1zM669 240h1v1h-1zM1127 240h1v1h-1zM1235 240h3v1h-3zM294 241h2v1h-2zM483 241h2v1h-2zM669 241h2v1h-2zM1126 241h2v1h-2zM1237 241h2v1h-2zM294 242h1v4h-1zM354 242h2v1h-2zM483 242h1v2h-1zM670 242h1v1h-1zM1125 242h2v1h-2zM1238 242h3v1h-3zM355 243h1v1h-1zM670 243h2v1h-2zM1124 243h2v1h-2zM1240 243h2v1h-2zM355 244h2v1h-2zM482 244h2v1h-2zM671 244h1v1h-1zM1124 244h1v1h-1zM1241 244h3v1h-3zM356 245h1v2h-1zM482 245h1v2h-1zM671 245h2v1h-2zM1123 245h2v1h-2zM1243 245h2v1h-2zM293 246h2v1h-2zM672 246h1v1h-1zM1122 246h2v1h-2zM1244 246h3v1h-3zM293 247h1v4h-1zM356 247h2v1h-2zM481 247h2v1h-2zM672 247h2v1h-2zM1122 247h1v1h-1zM1246 247h2v1h-2zM357 248h1v1h-1zM481 248h1v1h-1zM673 248h1v1h-1zM1121 248h2v1h-2zM1247 248h3v1h-3zM357 249h2v1h-2zM480 249h2v1h-2zM673 249h2v1h-2zM1120 249h2v1h-2zM1249 249h2v1h-2zM358 250h1v2h-1zM480 250h1v2h-1zM674 250h1v1h-1zM1119 250h2v1h-2zM1250 250h3v1h-3zM292 251h2v1h-2zM674 251h2v1h-2zM1119 251h1v1h-1zM1252 251h2v1h-2zM292 252h1v5h-1zM358 252h2v1h-2zM479 252h2v1h-2zM675 252h1v2h-1zM1118 252h2v1h-2zM1253 252h3v1h-3zM359 253h1v1h-1zM479 253h1v1h-1zM1117 253h2v1h-2zM1255 253h2v1h-2zM359 254h2v1h-2zM478 254h2v1h-2zM675 254h2v1h-2zM1116 254h2v1h-2zM1256 254h3v1h-3zM360 255h1v2h-1zM478 255h1v2h-1zM676 255h1v1h-1zM1116 255h1v1h-1zM1258 255h2v1h-2zM676 256h2v1h-2zM1115 256h2v1h-2zM1259 256h3v1h-3zM291 257h2v1h-2zM360 257h2v1h-2zM477 257h2v1h-2zM677 257h1v1h-1zM1114 257h2v1h-2zM1261 257h3v1h-3zM291 258h1v4h-1zM361 258h1v1h-1zM477 258h1v2h-1zM677 258h2v1h-2zM1114 258h1v1h-1zM1263 258h2v1h-2zM361 259h2v1h-2zM678 259h1v1h-1zM1113 259h2v1h-2zM1264 259h3v1h-3zM362 260h1v2h-1zM476 260h2v1h-2zM678 260h2v1h-2zM1112 260h2v1h-2zM1266 260h2v1h-2zM476 261h1v1h-1zM679 261h1v1h-1zM1111 261h2v1h-2zM1267 261h3v1h-3zM290 262h2v1h-2zM362 262h2v1h-2zM475 262h2v1h-2zM679 262h2v1h-2zM1111 262h1v1h-1zM1269 262h2v1h-2zM290 263h1v4h-1zM363 263h1v1h-1zM475 263h1v2h-1zM680 263h1v1h-1zM1110 263h2v1h-2zM1270 263h3v1h-3zM363 264h2v1h-2zM680 264h2v1h-2zM1109 264h2v1h-2zM1272 264h2v1h-2zM364 265h1v2h-1zM474 265h2v1h-2zM681 265h1v1h-1zM1108 265h2v1h-2zM1273 265h3v1h-3zM474 266h1v2h-1zM681 266h2v1h-2zM1108 266h1v1h-1zM1275 266h2v1h-2zM289 267h2v1h-2zM364 267h2v1h-2zM682 267h1v2h-1zM1107 267h2v1h-2zM1276 267h3v1h-3zM289 268h1v4h-1zM365 268h1v1h-1zM473 268h2v1h-2zM1106 268h2v1h-2zM1278 268h2v1h-2zM365 269h2v1h-2zM473 269h1v1h-1zM682 269h2v1h-2zM1106 269h1v1h-1zM1279 269h3v1h-3zM366 270h1v2h-1zM472 270h2v1h-2zM683 270h1v1h-1zM1105 270h2v1h-2zM1281 270h2v1h-2zM472 271h1v2h-1zM683 271h2v1h-2zM1104 271h2v1h-2zM1282 271h3v1h-3zM288 272h2v1h-2zM366 272h2v1h-2zM684 272h1v1h-1zM1103 272h2v1h-2zM1284 272h2v1h-2zM288 273h1v5h-1zM367 273h2v1h-2zM471 273h2v1h-2zM684 273h2v1h-2zM1103 273h1v1h-1zM1285 273h3v1h-3zM368 274h2v1h-2zM471 274h1v1h-1zM685 274h1v1h-1zM1102 274h2v1h-2zM1287 274h2v1h-2zM369 275h2v1h-2zM470 275h2v1h-2zM685 275h2v1h-2zM1101 275h2v1h-2zM1288 275h3v1h-3zM370 276h2v1h-2zM470 276h1v2h-1zM686 276h1v1h-1zM1101 276h1v1h-1zM1290 276h2v1h-2zM371 277h2v1h-2zM686 277h2v1h-2zM1100 277h2v1h-2zM1291 277h3v1h-3zM287 278h2v1h-2zM372 278h2v1h-2zM469 278h2v1h-2zM687 278h1v1h-1zM1099 278h2v1h-2zM1293 278h2v1h-2zM287 279h1v4h-1zM373 279h1v1h-1zM469 279h1v2h-1zM687 279h2v1h-2zM1098 279h2v1h-2zM1294 279h3v1h-3zM373 280h2v1h-2zM688 280h1v1h-1zM1098 280h1v1h-1zM1296 280h2v1h-2zM374 281h2v1h-2zM468 281h2v1h-2zM688 281h2v1h-2zM1097 281h2v1h-2zM1297 281h3v1h-3zM375 282h2v1h-2zM468 282h1v1h-1zM689 282h1v1h-1zM1096 282h2v1h-2zM1299 282h2v1h-2zM286 283h2v1h-2zM376 283h2v1h-2zM467 283h2v1h-2zM689 283h2v1h-2zM1095 283h2v1h-2zM1300 283h3v1h-3zM286 284h1v4h-1zM377 284h2v1h-2zM467 284h1v2h-1zM690 284h1v2h-1zM1095 284h1v1h-1zM1302 284h2v1h-2zM378 285h2v1h-2zM1094 285h2v1h-2zM1303 285h3v1h-3zM379 286h2v1h-2zM466 286h2v1h-2zM690 286h2v1h-2zM1093 286h2v1h-2zM1305 286h2v1h-2zM380 287h2v1h-2zM466 287h1v2h-1zM691 287h1v1h-1zM1093 287h1v1h-1zM1306 287h3v1h-3zM285 288h2v1h-2zM381 288h2v1h-2zM691 288h2v1h-2zM1092 288h2v1h-2zM1308 288h2v1h-2zM285 289h1v4h-1zM382 289h2v1h-2zM465 289h2v1h-2zM692 289h1v1h-1zM1091 289h2v1h-2zM1309 289h3v1h-3zM383 290h2v1h-2zM465 290h1v1h-1zM692 290h2v1h-2zM1090 290h2v1h-2zM1311 290h2v1h-2zM384 291h1v1h-1zM464 291h2v1h-2zM693 291h1v1h-1zM1090 291h1v1h-1zM1312 291h3v1h-3zM384 292h2v1h-2zM464 292h1v2h-1zM693 292h2v1h-2zM1089 292h2v1h-2zM1314 292h2v1h-2zM284 293h2v1h-2zM385 293h2v1h-2zM694 293h1v1h-1zM1088 293h2v1h-2zM1315 293h3v1h-3zM284 294h1v5h-1zM386 294h2v1h-2zM463 294h2v1h-2zM694 294h2v1h-2zM1088 294h1v1h-1zM1317 294h3v1h-3zM387 295h2v1h-2zM463 295h1v1h-1zM695 295h1v1h-1zM1087 295h2v1h-2zM1319 295h2v1h-2zM388 296h2v1h-2zM462 296h2v1h-2zM695 296h2v1h-2zM1086 296h2v1h-2zM1320 296h3v1h-3zM389 297h2v1h-2zM462 297h1v2h-1zM696 297h1v1h-1zM1085 297h2v1h-2zM1322 297h2v1h-2zM390 298h2v1h-2zM696 298h2v1h-2zM1085 298h1v1h-1zM1323 298h3v1h-3zM283 299h2v1h-2zM391 299h2v1h-2zM461 299h2v1h-2zM697 299h1v1h-1zM1084 299h2v1h-2zM1325 299h2v1h-2zM283 300h1v4h-1zM392 300h2v1h-2zM461 300h1v2h-1zM697 300h2v1h-2zM1083 300h2v1h-2zM1326 300h3v1h-3zM393 301h2v1h-2zM698 301h1v2h-1zM1082 301h2v1h-2zM1328 301h2v1h-2zM394 302h2v1h-2zM460 302h2v1h-2zM1082 302h1v1h-1zM1329 302h3v1h-3zM395 303h1v1h-1zM460 303h1v1h-1zM698 303h2v1h-2zM1081 303h2v1h-2zM1331 303h2v1h-2zM282 304h2v1h-2zM395 304h2v1h-2zM459 304h2v1h-2zM699 304h1v1h-1zM1080 304h2v1h-2zM1332 304h3v1h-3zM282 305h1v4h-1zM396 305h2v1h-2zM459 305h1v2h-1zM699 305h2v1h-2zM1080 305h1v1h-1zM1334 305h2v1h-2zM397 306h2v1h-2zM700 306h1v1h-1zM1079 306h2v1h-2zM1335 306h3v1h-3zM398 307h2v1h-2zM458 307h2v1h-2zM700 307h2v1h-2zM1078 307h2v1h-2zM1337 307h2v1h-2zM399 308h2v1h-2zM458 308h1v2h-1zM701 308h1v1h-1zM1077 308h2v1h-2zM1338 308h3v1h-3zM281 309h2v1h-2zM400 309h2v1h-2zM701 309h2v1h-2zM1077 309h1v1h-1zM1340 309h2v1h-2zM281 310h1v4h-1zM401 310h2v1h-2zM457 310h2v1h-2zM702 310h1v1h-1zM1076 310h2v1h-2zM1341 310h3v1h-3zM402 311h2v1h-2zM457 311h1v1h-1zM702 311h2v1h-2zM1075 311h2v1h-2zM1343 311h2v1h-2zM403 312h2v1h-2zM456 312h2v1h-2zM703 312h1v1h-1zM1075 312h1v1h-1zM1344 312h3v1h-3zM404 313h2v1h-2zM456 313h1v2h-1zM703 313h2v1h-2zM1074 313h2v1h-2zM1346 313h2v1h-2zM280 314h2v1h-2zM405 314h2v1h-2zM704 314h1v1h-1zM1073 314h2v1h-2zM1347 314h3v1h-3zM280 315h1v5h-1zM406 315h2v1h-2zM455 315h2v1h-2zM704 315h2v1h-2zM1072 315h2v1h-2zM1349 315h2v1h-2zM407 316h1v1h-1zM455 316h1v1h-1zM705 316h1v1h-1zM1072 316h1v1h-1zM1350 316h3v1h-3zM407 317h2v1h-2zM454 317h2v1h-2zM705 317h2v1h-2zM1071 317h2v1h-2zM1352 317h2v1h-2zM408 318h2v1h-2zM454 318h1v2h-1zM706 318h1v2h-1zM1070 318h2v1h-2zM1353 318h3v1h-3zM409 319h2v1h-2zM1069 319h2v1h-2zM1355 319h2v1h-2zM279 320h2v1h-2zM410 320h2v1h-2zM453 320h2v1h-2zM706 320h2v1h-2zM1069 320h1v1h-1zM1356 320h3v1h-3zM279 321h1v4h-1zM411 321h2v1h-2zM453 321h1v2h-1zM707 321h1v1h-1zM1068 321h2v1h-2zM1358 321h2v1h-2zM412 322h2v1h-2zM707 322h2v1h-2zM1067 322h2v1h-2zM1359 322h3v1h-3zM413 323h2v1h-2zM452 323h2v1h-2zM708 323h1v1h-1zM1067 323h1v1h-1zM1361 323h2v1h-2zM414 324h2v1h-2zM452 324h1v1h-1zM708 324h2v1h-2zM1066 324h2v1h-2zM1362 324h3v1h-3zM278 325h2v1h-2zM415 325h2v1h-2zM451 325h2v1h-2zM709 325h1v1h-1zM1065 325h2v1h-2zM1364 325h2v1h-2zM278 326h1v4h-1zM416 326h2v1h-2zM451 326h1v2h-1zM709 326h2v1h-2zM1064 326h2v1h-2zM1365 326h3v1h-3zM417 327h2v1h-2zM710 327h1v1h-1zM1064 327h1v1h-1zM1367 327h2v1h-2zM418 328h1v1h-1zM450 328h2v1h-2zM710 328h2v1h-2zM1063 328h2v1h-2zM1368 328h3v1h-3zM418 329h2v1h-2zM450 329h1v2h-1zM711 329h1v1h-1zM1062 329h2v1h-2zM1370 329h3v1h-3zM277 330h2v1h-2zM419 330h2v1h-2zM711 330h2v1h-2zM1062 330h1v1h-1zM1372 330h2v1h-2zM277 331h1v4h-1zM420 331h2v1h-2zM449 331h2v1h-2zM712 331h1v1h-1zM1061 331h2v1h-2zM1373 331h3v1h-3zM421 332h2v1h-2zM449 332h1v1h-1zM712 332h2v1h-2zM1060 332h2v1h-2zM1375 332h2v1h-2zM422 333h2v1h-2zM448 333h2v1h-2zM713 333h1v1h-1zM1059 333h2v1h-2zM1376 333h3v1h-3zM423 334h2v1h-2zM448 334h1v2h-1zM713 334h2v1h-2zM1059 334h1v1h-1zM1378 334h2v1h-2zM276 335h2v1h-2zM424 335h2v1h-2zM714 335h1v2h-1zM1058 335h2v1h-2zM1379 335h3v1h-3zM276 336h1v5h-1zM425 336h2v1h-2zM447 336h2v1h-2zM1057 336h2v1h-2zM1381 336h2v1h-2zM426 337h2v1h-2zM447 337h1v1h-1zM714 337h2v1h-2zM1056 337h2v1h-2zM1382 337h3v1h-3zM427 338h2v1h-2zM446 338h2v1h-2zM715 338h1v1h-1zM1056 338h1v1h-1zM1384 338h2v1h-2zM428 339h2v1h-2zM446 339h1v2h-1zM715 339h2v1h-2zM1055 339h2v1h-2zM1385 339h3v1h-3zM429 340h1v1h-1zM716 340h1v1h-1zM1054 340h2v1h-2zM1387 340h2v1h-2zM275 341h2v1h-2zM429 341h2v1h-2zM445 341h2v1h-2zM716 341h2v1h-2zM1054 341h1v1h-1zM1388 341h3v1h-3zM275 342h1v4h-1zM430 342h2v1h-2zM445 342h1v2h-1zM717 342h1v1h-1zM1053 342h2v1h-2zM1390 342h2v1h-2zM431 343h2v1h-2zM717 343h2v1h-2zM1052 343h2v1h-2zM1391 343h3v1h-3zM432 344h2v1h-2zM444 344h2v1h-2zM718 344h1v1h-1zM1051 344h2v1h-2zM1393 344h2v1h-2zM433 345h2v1h-2zM444 345h1v1h-1zM718 345h2v1h-2zM1051 345h1v1h-1zM1394 345h3v1h-3zM274 346h2v1h-2zM434 346h2v1h-2zM443 346h2v1h-2zM719 346h1v1h-1zM1050 346h2v1h-2zM1396 346h2v1h-2zM274 347h1v4h-1zM435 347h2v1h-2zM443 347h1v2h-1zM719 347h2v1h-2zM1049 347h2v1h-2zM1397 347h3v1h-3zM436 348h2v1h-2zM720 348h1v1h-1zM1048 348h2v1h-2zM1399 348h2v1h-2zM437 349h2v1h-2zM442 349h2v1h-2zM720 349h2v1h-2zM1048 349h1v1h-1zM1400 349h3v1h-3zM438 350h2v1h-2zM442 350h1v2h-1zM721 350h1v2h-1zM1047 350h2v1h-2zM1402 350h2v1h-2zM273 351h2v1h-2zM439 351h2v1h-2zM1046 351h2v1h-2zM1403 351h3v1h-3zM273 352h1v4h-1zM440 352h3v1h-3zM721 352h2v1h-2zM1046 352h1v1h-1zM1405 352h2v1h-2zM440 353h2v1h-2zM722 353h1v1h-1zM1045 353h2v1h-2zM1406 353h3v1h-3zM441 354h1v1h-1zM722 354h2v1h-2zM1044 354h2v1h-2zM1408 354h2v1h-2zM723 355h1v1h-1zM1043 355h2v1h-2zM1409 355h3v1h-3zM272 356h2v1h-2zM723 356h2v1h-2zM1043 356h1v1h-1zM1411 356h2v1h-2zM272 357h1v5h-1zM724 357h1v1h-1zM1042 357h2v1h-2zM1412 357h3v1h-3zM724 358h2v1h-2zM1041 358h2v1h-2zM1414 358h2v1h-2zM725 359h1v1h-1zM1041 359h1v1h-1zM1415 359h3v1h-3zM725 360h2v1h-2zM1040 360h2v1h-2zM1417 360h2v1h-2zM726 361h1v1h-1zM1039 361h2v1h-2zM1418 361h3v1h-3zM271 362h2v1h-2zM726 362h2v1h-2zM1038 362h2v1h-2zM1420 362h2v1h-2zM271 363h1v6h-1zM727 363h1v1h-1zM1038 363h1v1h-1zM1421 363h3v1h-3zM727 364h2v1h-2zM1037 364h2v1h-2zM1423 364h3v1h-3zM728 365h1v1h-1zM1036 365h2v1h-2zM1425 365h2v1h-2zM728 366h2v1h-2zM1035 366h2v1h-2zM1426 366h3v1h-3zM729 367h1v2h-1zM1035 367h1v1h-1zM1428 367h2v1h-2zM1034 368h2v1h-2zM1429 368h3v1h-3zM270 369h2v1h-2zM729 369h2v1h-2zM1033 369h2v1h-2zM1431 369h2v1h-2zM270 370h1v8h-1zM730 370h1v1h-1zM1033 370h1v1h-1zM1432 370h3v1h-3zM730 371h2v1h-2zM1032 371h2v1h-2zM1434 371h2v1h-2zM731 372h1v1h-1zM1031 372h2v1h-2zM1435 372h3v1h-3zM731 373h2v1h-2zM1030 373h2v1h-2zM1437 373h2v1h-2zM732 374h1v1h-1zM1030 374h1v1h-1zM1438 374h1v1h-1zM732 375h2v1h-2zM1029 375h2v1h-2zM733 376h1v1h-1zM1028 376h2v1h-2zM733 377h2v1h-2zM1028 377h1v1h-1zM269 378h2v1h-2zM734 378h1v1h-1zM1027 378h2v1h-2zM269 379h1v7h-1zM734 379h2v1h-2zM1026 379h2v1h-2zM735 380h1v1h-1zM1025 380h2v1h-2zM735 381h2v1h-2zM1025 381h1v1h-1zM736 382h1v1h-1zM1024 382h2v1h-2zM736 383h2v1h-2zM1023 383h2v1h-2zM737 384h1v2h-1zM1022 384h2v1h-2zM1022 385h1v1h-1zM268 386h2v1h-2zM737 386h2v1h-2zM1021 386h2v1h-2zM268 387h1v7h-1zM738 387h1v1h-1zM1020 387h2v1h-2zM738 388h2v1h-2zM1020 388h1v1h-1zM739 389h1v1h-1zM1019 389h2v1h-2zM739 390h2v1h-2zM1018 390h2v1h-2zM740 391h1v1h-1zM1017 391h2v1h-2zM740 392h2v1h-2zM1017 392h1v1h-1zM741 393h1v1h-1zM1016 393h2v1h-2zM267 394h2v1h-2zM741 394h2v1h-2zM1015 394h2v1h-2zM267 395h1v8h-1zM742 395h1v1h-1zM1015 395h1v1h-1zM742 396h2v1h-2zM1014 396h2v1h-2zM743 397h1v1h-1zM1013 397h2v1h-2zM743 398h2v1h-2zM1012 398h2v1h-2zM744 399h1v1h-1zM1012 399h1v1h-1zM744 400h2v1h-2zM1011 400h2v1h-2zM745 401h1v2h-1zM1010 401h2v1h-2zM1009 402h2v1h-2zM266 403h2v1h-2zM745 403h2v1h-2zM1009 403h1v1h-1zM266 404h1v7h-1zM746 404h1v1h-1zM1008 404h2v1h-2zM746 405h2v1h-2zM1007 405h2v1h-2zM747 406h1v1h-1zM1007 406h1v1h-1zM747 407h2v1h-2zM1006 407h2v1h-2zM748 408h1v1h-1zM1005 408h2v1h-2zM748 409h2v1h-2zM1004 409h2v1h-2zM749 410h1v1h-1zM1004 410h1v1h-1zM265 411h2v1h-2zM749 411h2v1h-2zM1003 411h2v1h-2zM265 412h1v8h-1zM750 412h1v1h-1zM1002 412h2v1h-2zM750 413h2v1h-2zM1002 413h1v1h-1zM751 414h1v1h-1zM1001 414h2v1h-2zM751 415h2v1h-2zM1000 415h2v1h-2zM752 416h1v1h-1zM999 416h2v1h-2zM752 417h2v1h-2zM999 417h1v1h-1zM753 418h1v2h-1zM998 418h2v1h-2zM997 419h2v1h-2zM264 420h2v1h-2zM753 420h2v1h-2zM996 420h2v1h-2zM264 421h1v7h-1zM754 421h1v1h-1zM996 421h1v1h-1zM754 422h2v1h-2zM995 422h2v1h-2zM755 423h1v1h-1zM994 423h2v1h-2zM755 424h2v1h-2zM994 424h1v1h-1zM756 425h1v1h-1zM993 425h2v1h-2zM756 426h2v1h-2zM992 426h2v1h-2zM757 427h1v1h-1zM991 427h2v1h-2zM263 428h2v1h-2zM757 428h2v1h-2zM991 428h1v1h-1zM263 429h1v7h-1zM758 429h1v1h-1zM990 429h2v1h-2zM758 430h2v1h-2zM989 430h2v1h-2zM759 431h1v1h-1zM988 431h2v1h-2zM759 432h2v1h-2zM988 432h1v1h-1zM760 433h1v2h-1zM987 433h2v1h-2zM986 434h2v1h-2zM760 435h2v1h-2zM986 435h1v1h-1zM262 436h2v1h-2zM761 436h1v1h-1zM985 436h2v1h-2zM262 437h1v8h-1zM761 437h2v1h-2zM984 437h2v1h-2zM762 438h1v1h-1zM983 438h2v1h-2zM762 439h2v1h-2zM983 439h1v1h-1zM763 440h1v1h-1zM982 440h2v1h-2zM763 441h2v1h-2zM981 441h2v1h-2zM764 442h1v1h-1zM981 442h1v1h-1zM764 443h2v1h-2zM980 443h2v1h-2zM765 444h1v1h-1zM979 444h2v1h-2zM261 445h2v1h-2zM765 445h2v1h-2zM978 445h2v1h-2zM261 446h1v7h-1zM766 446h1v1h-1zM978 446h1v1h-1zM766 447h2v1h-2zM977 447h2v1h-2zM767 448h1v1h-1zM976 448h2v1h-2zM767 449h2v1h-2zM975 449h2v1h-2zM768 450h1v2h-1zM975 450h1v1h-1zM974 451h2v1h-2zM768 452h2v1h-2zM973 452h2v1h-2zM260 453h2v1h-2zM769 453h1v1h-1zM973 453h1v1h-1zM260 454h1v8h-1zM769 454h2v1h-2zM972 454h2v1h-2zM770 455h6v1h-6zM971 455h2v1h-2zM775 456h7v1h-7zM970 456h2v1h-2zM781 457h7v1h-7zM970 457h1v1h-1zM787 458h7v1h-7zM969 458h2v1h-2zM793 459h7v1h-7zM968 459h2v1h-2zM799 460h6v1h-6zM968 460h1v1h-1zM804 461h7v1h-7zM967 461h2v1h-2zM259 462h2v1h-2zM810 462h7v1h-7zM966 462h2v1h-2zM259 463h1v7h-1zM816 463h7v1h-7zM965 463h2v1h-2zM822 464h7v1h-7zM965 464h1v1h-1zM828 465h7v1h-7zM964 465h2v1h-2zM834 466h7v1h-7zM963 466h2v1h-2zM840 467h7v1h-7zM962 467h2v1h-2zM846 468h7v1h-7zM962 468h1v1h-1zM852 469h7v1h-7zM961 469h2v1h-2zM258 470h2v1h-2zM858 470h7v1h-7zM960 470h2v1h-2zM258 471h1v8h-1zM864 471h7v1h-7zM960 471h1v1h-1zM870 472h7v1h-7zM959 472h2v1h-2zM876 473h7v1h-7zM958 473h2v1h-2zM882 474h7v1h-7zM957 474h2v1h-2zM888 475h7v1h-7zM957 475h1v1h-1zM894 476h7v1h-7zM956 476h2v1h-2zM900 477h6v1h-6zM955 477h2v1h-2zM905 478h7v1h-7zM955 478h1v1h-1zM257 479h2v1h-2zM911 479h7v1h-7zM954 479h2v1h-2zM257 480h1v7h-1zM917 480h7v1h-7zM953 480h2v1h-2zM923 481h7v1h-7zM952 481h2v1h-2zM929 482h7v1h-7zM952 482h1v1h-1zM935 483h7v1h-7zM951 483h2v1h-2zM941 484h7v1h-7zM950 484h2v1h-2zM947 485h4v1h-4zM256 487h2v1h-2zM256 488h1v7h-1zM255 495h2v1h-2zM255 496h1v8h-1zM254 504h2v1h-2zM254 505h1v7h-1zM253 512h2v1h-2zM253 513h1v8h-1zM252 521h2v1h-2zM252 522h1v7h-1zM251 529h2v1h-2zM251 530h1v8h-1zM250 538h2v1h-2zM250 539h1v7h-1zM249 546h2v1h-2zM249 547h1v7h-1zM248 554h2v1h-2zM248 555h1v8h-1zM247 563h2v1h-2zM247 564h1v7h-1zM246 571h2v1h-2zM246 572h1v8h-1zM245 580h2v1h-2zM245 581h1v7h-1zM244 588h2v1h-2zM244 589h1v7h-1zM243 596h2v1h-2zM243 597h1v8h-1zM242 605h2v1h-2zM242 606h1v7h-1zM241 613h2v1h-2zM241 614h1v8h-1zM240 622h2v1h-2zM240 623h1v7h-1zM239 630h2v1h-2zM239 631h1v8h-1zM238 639h2v1h-2zM238 640h1v7h-1zM237 647h2v1h-2zM237 648h1v7h-1zM236 655h2v1h-2zM236 656h1v8h-1zM235 664h2v1h-2zM235 665h1v6h-1zM234 671h2v1h-2zM234 672h1v6h-1zM233 678h2v1h-2zM233 679h1v5h-1zM232 684h2v1h-2zM232 685h1v6h-1zM231 691h2v1h-2zM231 692h1v5h-1zM230 697h2v1h-2zM230 698h1v6h-1zM229 704h2v1h-2zM229 705h1v6h-1zM228 711h2v1h-2zM228 712h1v5h-1zM227 717h2v1h-2zM227 718h1v6h-1zM226 724h2v1h-2zM226 725h1v5h-1zM225 730h2v1h-2zM225 731h1v6h-1zM224 737h2v1h-2zM224 738h1v6h-1zM223 744h2v1h-2zM223 745h1v5h-1zM222 750h2v1h-2zM222 751h1v6h-1zM221 757h2v1h-2zM221 758h1v5h-1zM220 763h2v1h-2zM220 764h1v6h-1zM219 770h2v1h-2zM219 771h1v6h-1zM218 777h2v1h-2zM218 778h1v5h-1zM217 783h2v1h-2zM217 784h1v6h-1zM216 790h2v1h-2zM216 791h1v6h-1zM215 797h2v1h-2zM215 798h1v5h-1zM214 803h2v1h-2zM214 804h1v6h-1zM213 810h2v1h-2zM213 811h1v5h-1zM212 816h2v1h-2zM212 817h1v6h-1zM211 823h2v1h-2zM211 824h1v6h-1zM210 830h2v1h-2zM210 831h1v5h-1zM209 836h2v1h-2zM209 837h1v6h-1zM208 843h2v1h-2zM208 844h1v6h-1z"/>
<path d="M193 841h30v3h-30zM194 844h28v1h-28zM195 845h27v1h-27zM195 846h26v1h-26zM196 847h24v2h-24zM197 849h22v2h-22zM198 851h20v1h-20zM199 852h18v2h-18zM200 854h16v2h-16zM201 856h14v1h-14zM202 857h13v1h-13zM202 858h12v1h-12zM203 859h10v2h-10zM204 861h8v2h-8zM205 863h6v1h-6zM206 864h5v1h-5zM206 865h4v1h-4zM207 866h2v1h-2z"/>
<path d="M220 659h31v1h-31zM221 660h30v1h-30zM221 661h29v1h-29zM222 662h28v1h-28zM222 663h27v1h-27zM223 664h25v2h-25zM224 666h23v1h-23zM225 667h22v1h-22zM225 668h21v1h-21zM226 669h20v1h-20zM226 670h19v1h-19zM227 671h17v2h-17zM228 673h15v1h-15zM229 674h14v1h-14zM229 675h13v1h-13zM230 676h11v2h-11zM231 678h9v1h-9zM232 679h8v1h-8zM232 680h7v1h-7zM233 681h6v1h-6zM233 682h5v1h-5zM234 683h3v2h-3z"/>
<path d="M256 355h31v2h-31zM257 357h29v1h-29zM258 358h28v1h-28zM258 359h27v1h-27zM259 360h26v1h-26zM259 361h25v1h-25zM260 362h24v1h-24zM260 363h23v1h-23zM261 364h21v1h-21zM262 365h20v1h-20zM262 366h19v1h-19zM263 367h18v1h-18zM263 368h17v1h-17zM264 369h16v1h-16zM264 370h15v1h-15zM265 371h13v1h-13zM266 372h12v1h-12zM266 373h11v1h-11zM267 374h10v1h-10zM267 375h9v1h-9zM268 376h7v1h-7zM269 377h6v1h-6zM269 378h5v1h-5zM270 379h4v1h-4zM270 380h3v1h-3z"/>
<path d="M299 132h30v3h-30zM300 135h29v1h-29zM300 136h28v1h-28zM301 137h26v2h-26zM302 139h24v1h-24zM303 140h23v1h-23zM303 141h22v1h-22zM304 142h20v2h-20zM305 144h18v1h-18zM306 145h17v1h-17zM306 146h16v1h-16zM307 147h15v1h-15zM307 148h14v1h-14zM308 149h12v2h-12zM309 151h10v1h-10zM310 152h9v1h-9zM310 153h8v1h-8zM311 154h7v1h-7zM311 155h6v1h-6zM312 156h4v2h-4zM313 158h2v1h-2z"/>
<path d="M352 264h30v3h-30zM353 267h28v1h-28zM354 268h27v1h-27zM354 269h26v1h-26zM355 270h25v1h-25zM355 271h24v1h-24zM356 272h22v1h-22zM357 273h21v1h-21zM357 274h20v1h-20zM358 275h19v1h-19zM358 276h18v1h-18zM359 277h17v1h-17zM359 278h16v1h-16zM360 279h14v1h-14zM361 280h13v1h-13zM361 281h12v1h-12zM362 282h11v1h-11zM362 283h10v1h-10zM363 284h8v2h-8zM364 286h6v1h-6zM365 287h5v1h-5zM365 288h4v1h-4zM366 289h3v1h-3z"/>
<path d="M426 345h31v2h-31zM427 347h29v2h-29zM428 349h27v1h-27zM428 350h26v1h-26zM429 351h25v1h-25zM430 352h23v2h-23zM431 354h21v1h-21zM431 355h20v1h-20zM432 356h19v1h-19zM433 357h17v2h-17zM434 359h15v2h-15zM435 361h13v1h-13zM435 362h12v1h-12zM436 363h11v1h-11zM437 364h9v2h-9zM438 366h7v2h-7zM439 368h5v1h-5zM439 369h4v1h-4zM440 370h3v1h-3z"/>
<path d="M511 122h31v2h-31zM511 124h30v1h-30zM512 125h29v1h-29zM513 126h27v1h-27zM513 127h26v1h-26zM514 128h25v1h-25zM514 129h24v1h-24zM515 130h23v1h-23zM515 131h22v1h-22zM516 132h21v1h-21zM517 133h19v1h-19zM517 134h18v1h-18zM518 135h17v1h-17zM518 136h16v1h-16zM519 137h15v1h-15zM519 138h14v1h-14zM520 139h13v1h-13zM521 140h11v1h-11zM521 141h10v1h-10zM522 142h9v1h-9zM522 143h8v1h-8zM523 144h7v1h-7zM524 145h5v1h-5zM524 146h4v1h-4zM525 147h3v1h-3zM525 148h2v1h-2z"/>
<path d="M617 153h31v1h-31zM617 154h30v1h-30zM618 155h29v1h-29zM618 156h28v1h-28zM619 157h27v1h-27zM620 158h25v2h-25zM621 160h23v1h-23zM621 161h22v1h-22zM622 162h21v1h-21zM622 163h20v1h-20zM623 164h19v1h-19zM624 165h17v2h-17zM625 167h15v1h-15zM625 168h14v1h-14zM626 169h13v1h-13zM627 170h11v2h-11zM628 172h9v1h-9zM628 173h8v1h-8zM629 174h7v1h-7zM629 175h6v1h-6zM630 176h5v1h-5zM631 177h3v2h-3z"/>
<path d="M755 446h31v2h-31zM755 448h30v1h-30zM756 449h28v1h-28zM757 450h27v1h-27zM757 451h26v1h-26zM758 452h25v1h-25zM758 453h24v1h-24zM759 454h23v1h-23zM760 455h21v1h-21zM760 456h20v1h-20zM761 457h19v1h-19zM761 458h18v1h-18zM762 459h17v1h-17zM762 460h16v1h-16zM763 461h15v1h-15zM764 462h13v1h-13zM764 463h12v1h-12zM765 464h11v1h-11zM765 465h10v1h-10zM766 466h9v1h-9zM766 467h8v1h-8zM767 468h7v1h-7zM768 469h5v1h-5zM768 470h4v1h-4zM769 471h3v1h-3z"/>
<path d="M935 476h31v2h-31zM936 478h30v1h-30zM936 479h29v1h-29zM937 480h27v2h-27zM938 482h25v2h-25zM939 484h23v1h-23zM940 485h22v1h-22zM940 486h21v1h-21zM941 487h19v2h-19zM942 489h17v1h-17zM943 490h16v1h-16zM943 491h15v1h-15zM944 492h14v1h-14zM944 493h13v1h-13zM945 494h11v2h-11zM946 496h9v1h-9zM947 497h8v1h-8zM947 498h7v1h-7zM948 499h5v2h-5zM949 501h3v2h-3z"/>
<path d="M1148 183h30v2h-30zM1148 185h29v1h-29zM1149 186h28v1h-28zM1149 187h27v1h-27zM1150 188h26v1h-26zM1150 189h25v1h-25zM1151 190h24v1h-24zM1151 191h23v1h-23zM1152 192h21v1h-21zM1153 193h20v1h-20zM1153 194h19v1h-19zM1154 195h18v1h-18zM1154 196h17v1h-17zM1155 197h16v1h-16zM1156 198h14v1h-14zM1156 199h13v1h-13zM1157 200h12v1h-12zM1157 201h11v1h-11zM1158 202h10v1h-10zM1158 203h9v1h-9zM1159 204h8v1h-8zM1160 205h6v1h-6zM1160 206h5v1h-5zM1161 207h4v1h-4zM1161 208h3v1h-3z"/>
<path d="M1423 365h31v2h-31zM1424 367h29v2h-29zM1425 369h27v2h-27zM1426 371h25v1h-25zM1427 372h23v2h-23zM1428 374h21v2h-21zM1429 376h19v1h-19zM1430 377h18v1h-18zM1430 378h17v1h-17zM1431 379h15v2h-15zM1432 381h13v2h-13zM1433 383h11v1h-11zM1434 384h10v1h-10zM1434 385h9v1h-9zM1435 386h7v2h-7zM1436 388h5v2h-5zM1437 390h3v1h-3z"/>
</g>
</g>
<g filter="url(#crisp)">
<text class="lb" x="1472" y="398">d</text>
<text class="lb" x="1467.7" y="588">b</text>
<text class="lb" transform="translate(1420.3 630) scale(1.1 1)">c</text>
<text class="la" transform="translate(1389.5 696.5) scale(0.9 1)">a</text>
</g>
</svg>
</body></html>
